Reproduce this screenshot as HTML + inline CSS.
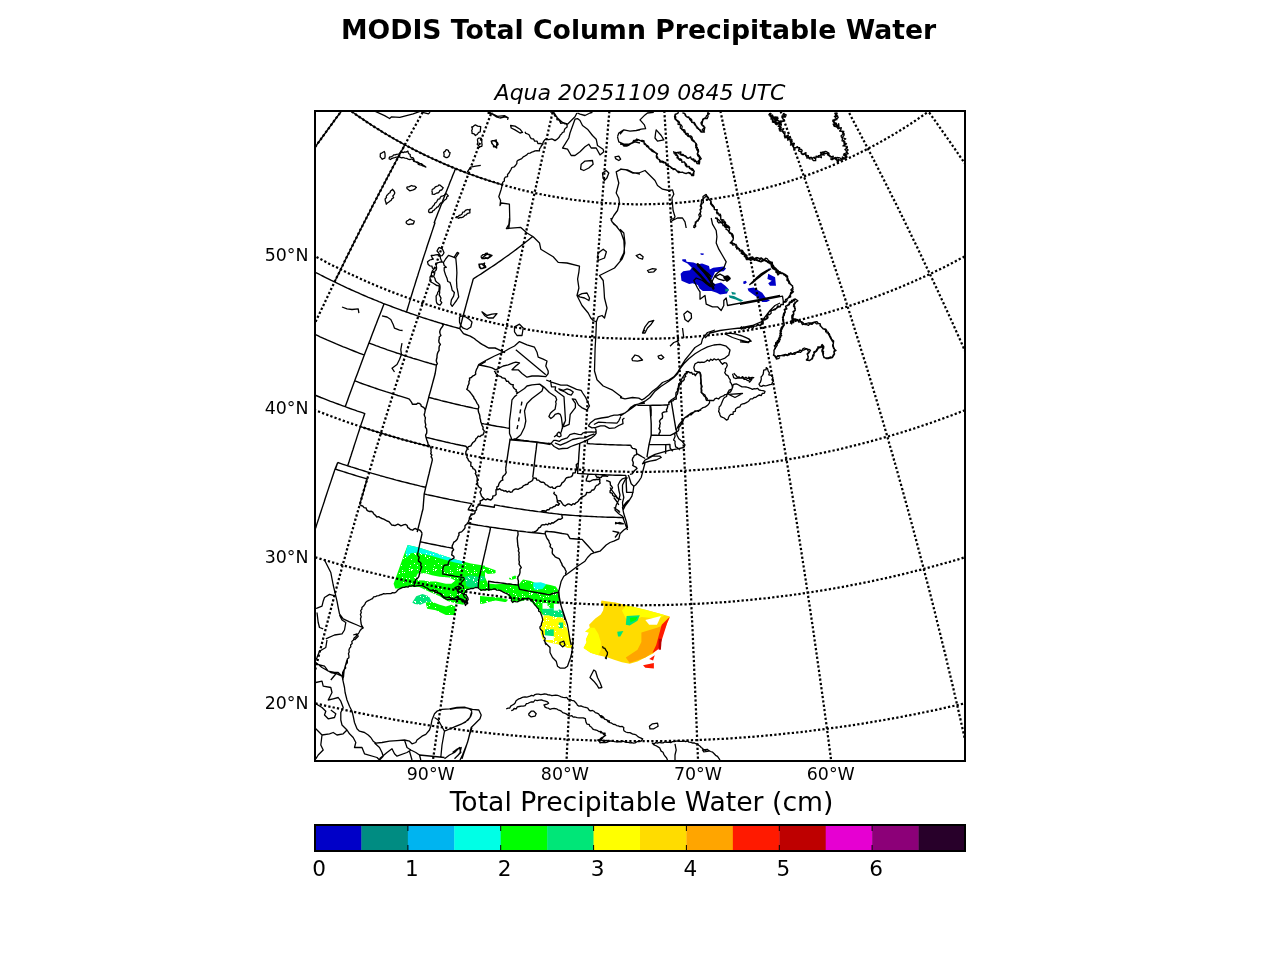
<!DOCTYPE html><html><head><meta charset="utf-8"><style>html,body{margin:0;padding:0;background:#fff;width:1280px;height:960px;overflow:hidden}</style></head><body><svg width="1280" height="960" viewBox="0 0 1280 960" style="position:absolute;left:0;top:0">
<defs><clipPath id="c"><rect x="315" y="111" width="650" height="650"/></clipPath><pattern id="sp" width="24" height="24" patternUnits="userSpaceOnUse"><g fill="#fff"><rect x="10" y="4" width="1" height="1"/><rect x="12" y="20" width="1" height="1"/><rect x="1" y="2" width="1" height="1"/><rect x="17" y="3" width="1" height="1"/><rect x="11" y="18" width="1" height="1"/><rect x="1" y="16" width="1" height="1"/><rect x="6" y="1" width="1" height="1"/><rect x="2" y="13" width="1" height="1"/><rect x="13" y="2" width="1" height="1"/><rect x="7" y="2" width="1" height="1"/><rect x="17" y="13" width="1" height="1"/><rect x="1" y="18" width="1" height="1"/><rect x="3" y="7" width="1" height="1"/><rect x="20" y="20" width="1" height="1"/><rect x="18" y="1" width="1" height="1"/><rect x="18" y="18" width="1" height="1"/><rect x="12" y="1" width="1" height="1"/><rect x="7" y="1" width="1" height="1"/><rect x="17" y="4" width="1" height="1"/><rect x="9" y="13" width="1" height="1"/><rect x="4" y="17" width="1" height="1"/><rect x="3" y="18" width="1" height="1"/><rect x="9" y="17" width="1" height="1"/><rect x="21" y="5" width="1" height="1"/><rect x="3" y="18" width="1" height="1"/><rect x="18" y="20" width="1" height="1"/><rect x="6" y="11" width="1" height="1"/><rect x="3" y="17" width="1" height="1"/><rect x="22" y="2" width="1" height="1"/><rect x="18" y="1" width="1" height="1"/><rect x="19" y="6" width="1" height="1"/><rect x="15" y="21" width="1" height="1"/></g></pattern></defs>
<rect width="1280" height="960" fill="#fff"/>
<g clip-path="url(#c)">
<path d="M682.3,259.2 L685.8,259.2 L686.6,261.8 L693.5,262.6 L697.8,264.3 L702.1,263.5 L709.0,266.0 L709.8,269.5 L713.2,267.8 L723.6,266.5 L726.1,268.6 L723.6,271.2 L715.0,272.1 L712.4,278.1 L710.7,280.7 L715.0,284.1 L721.0,282.4 L725.3,285.8 L728.7,289.2 L727.0,293.5 L720.1,294.4 L716.7,292.7 L711.5,291.0 L702.9,291.0 L699.5,288.4 L697.8,285.0 L692.6,283.2 L689.2,284.1 L681.5,280.7 L680.6,273.8 L683.2,271.2 L690.0,270.3 L691.8,267.8 L687.5,263.5 L682.3,260.9Z" fill="#0000c8" stroke="none"/>
<path d="M747.6,288.4 L753.6,287.5 L762.2,292.7 L765.7,297.8 L770.0,300.4 L766.5,302.1 L762.2,302.1 L757.9,297.8 L751.9,293.5 L748.5,291.0Z" fill="#0000c8" stroke="none"/>
<path d="M768.2,273.8 L775.1,277.2 L776.0,285.8 L770.0,285.8 L768.2,283.2 L771.7,280.7 L767.4,278.9Z" fill="#0000c8" stroke="none"/>
<path d="M743.3,281.5 L745.9,280.7 L746.8,282.4 L745.0,284.1 L743.3,283.7Z" fill="#0000c8" stroke="none"/>
<path d="M768.2,268.6 L770.4,269.1 L770.0,270.5 L768.2,270.2Z" fill="#0000c8" stroke="none"/>
<path d="M700.4,253.2 L703.8,253.6 L703.4,254.9 L700.8,254.7Z" fill="#0000c8" stroke="none"/>
<path d="M725.3,288.4 L728.7,289.2 L728.7,291.0 L725.3,291.8Z" fill="#008c82" stroke="none"/>
<path d="M728.7,295.3 L733.9,296.1 L737.3,297.8 L743.3,300.4 L740.8,301.7 L735.6,299.6 L729.6,297.8Z" fill="#008c82" stroke="none"/>
<path d="M731.3,291.8 L735.6,292.7 L735.6,294.4 L732.2,294.4Z" fill="#008c82" stroke="none"/>
<path d="M407.7,545.1 L418.6,547.4 L431.9,551.7 L445.9,556.4 L453.8,559.1 L463.1,561.5 L470.9,563.4 L485.0,565.8 L485.0,588.4 L470.9,587.7 L467.0,590.0 L466.2,594.7 L467.8,601.7 L463.1,604.8 L455.3,603.3 L447.5,600.9 L439.7,596.2 L428.8,591.6 L419.4,586.9 L408.4,586.7 L400.6,588.4 L395.2,588.4 L393.6,583.8 L396.7,575.2 L404.5,553.3Z" fill="#00ff00" stroke="none"/>
<path d="M407.7,545.1 L418.6,547.4 L431.9,551.7 L445.9,556.4 L453.8,559.1 L463.1,561.5 L463.1,564.2 L453.8,562.3 L445.9,559.9 L431.9,556.0 L421.7,553.7 L417.8,552.5 L410.8,553.3 L406.9,557.2 L405.3,553.3Z" fill="#00ffe6" stroke="none"/>
<path d="M417.8,573.6 L425.6,573.2 L431.9,575.2 L439.7,576.7 L449.1,577.5 L455.3,580.6 L451.4,583.8 L445.9,583.8 L435.8,581.4 L428.8,581.4 L424.1,580.6 L417.8,580.2 L416.2,576.7Z" fill="#ffffff" stroke="none"/>
<path d="M412.3,602.5 L416.2,596.2 L422.5,593.9 L428.8,596.2 L431.9,601.7 L425.6,602.5 L420.2,604.8 L414.7,604.1Z" fill="#00e678" stroke="none"/>
<path d="M425.6,602.5 L431.9,601.7 L439.7,604.8 L445.9,606.4 L451.4,604.8 L455.3,606.4 L455.3,615.0 L445.9,615.0 L435.8,610.3 L427.2,608.8Z" fill="#00ff00" stroke="none"/>
<path d="M464.7,576.7 L470.9,575.2 L478.8,576.7 L478.8,586.9 L470.9,587.7 L466.2,586.1Z" fill="#00e678" stroke="none"/>
<path d="M480.0,575.6 L484.7,576.4 L487.8,583.4 L495.6,584.2 L509.7,583.4 L518.3,585.0 L523.0,579.5 L530.8,581.1 L534.7,582.7 L542.5,583.4 L550.3,585.0 L555.8,586.6 L558.9,591.2 L558.9,600.6 L558.1,606.9 L556.6,608.4 L550.3,608.4 L548.0,605.3 L546.4,610.0 L544.1,614.7 L542.5,614.7 L539.4,610.0 L533.1,603.8 L528.4,599.1 L523.8,600.6 L517.5,602.2 L512.8,602.2 L509.7,597.5 L505.0,592.8 L495.6,589.7 L487.8,590.5 L482.3,590.5 L480.0,591.2Z" fill="#00ff00" stroke="none"/>
<path d="M480.0,595.9 L487.8,596.7 L499.5,597.5 L508.1,599.8 L505.8,602.2 L495.6,600.6 L487.8,602.2 L483.1,603.8 L480.0,603.8Z" fill="#00ff00" stroke="none"/>
<path d="M533.1,582.7 L540.9,582.3 L546.4,584.2 L542.5,588.9 L534.7,589.7 L533.1,586.6Z" fill="#00ffe6" stroke="none"/>
<path d="M480.0,566.2 L486.2,567.0 L495.6,570.2 L495.6,573.3 L487.8,574.1 L484.7,571.7 L480.0,570.2Z" fill="#00ff00" stroke="none"/>
<path d="M508.9,578.0 L515.2,575.6 L517.5,578.0 L512.8,579.5 L509.7,579.5Z" fill="#00ff00" stroke="none"/>
<path d="M480.0,575.6 L484.7,576.4 L484.7,580.3 L480.0,581.1Z" fill="#00e678" stroke="none"/>
<path d="M541.2,609.4 L548.8,608.8 L556.2,607.5 L562.5,611.2 L563.1,617.5 L553.8,617.5 L548.8,615.6 L543.8,615.6Z" fill="#00e678" stroke="none"/>
<path d="M543.8,615.6 L548.8,615.6 L553.8,616.9 L562.5,617.5 L565.0,620.0 L566.2,626.2 L568.8,633.8 L571.2,641.9 L572.5,648.1 L567.5,648.1 L561.2,645.0 L555.0,643.8 L548.8,642.5 L545.0,641.2 L542.5,638.8 L540.6,632.5 L541.2,626.2 L542.5,621.2Z" fill="#ffff00" stroke="none"/>
<path d="M545.0,629.4 L553.8,629.4 L553.8,636.2 L545.0,636.2Z" fill="#00e678" stroke="none"/>
<path d="M558.8,622.5 L563.1,622.5 L563.1,628.1 L558.8,628.1Z" fill="#00e678" stroke="none"/>
<path d="M542.5,635.0 L553.8,636.2 L553.8,640.0 L545.0,640.0Z" fill="#ffffff" stroke="none"/>
<path d="M542.5,603.1 L547.5,603.1 L547.5,608.8 L542.5,608.8Z" fill="#ffffff" stroke="none"/>
<path d="M553.8,603.8 L558.8,603.8 L558.8,610.6 L553.8,610.6Z" fill="#ffffff" stroke="none"/>
<path d="M601.6,600.5 L606.2,601.2 L615.6,602.4 L629.7,605.9 L645.3,609.8 L660.9,614.1 L669.9,616.5 L667.2,623.1 L663.3,632.5 L659.4,641.9 L657.0,649.7 L653.1,653.6 L645.3,657.5 L637.5,661.4 L629.7,663.8 L621.9,662.2 L614.1,659.8 L607.8,657.5 L598.4,655.2 L590.6,652.8 L583.6,648.1 L586.7,641.9 L585.9,639.5 L589.1,632.5 L585.2,631.7 L589.8,627.8 L589.1,624.7 L595.3,618.4 L600.8,614.5 L603.1,610.6 L603.9,605.9 L600.8,602.8Z" fill="#ffdc00" stroke="none"/>
<path d="M625.8,605.9 L629.7,605.9 L645.3,609.8 L660.9,614.1 L664.8,615.3 L659.4,618.4 L649.2,617.7 L641.4,616.9 L633.6,620.8 L625.8,618.4 L621.9,610.6Z" fill="#ffff00" stroke="none"/>
<path d="M583.6,648.1 L586.7,641.9 L585.9,639.5 L589.1,632.5 L585.2,631.7 L589.8,627.8 L594.5,627.8 L598.4,634.1 L600.8,641.9 L600.8,649.7 L598.4,655.2 L590.6,652.8Z" fill="#ffff00" stroke="none"/>
<path d="M641.4,632.5 L657.0,627.8 L664.8,624.7 L657.0,649.7 L645.3,657.5 L629.7,663.0 L625.8,657.5 L637.5,649.7 L641.4,641.9Z" fill="#ffa500" stroke="none"/>
<path d="M661.7,624.7 L668.0,618.4 L669.9,616.9 L667.2,623.1 L661.7,640.3 L658.6,648.9 L652.3,653.2 L656.2,645.0Z" fill="#ff1a00" stroke="none"/>
<path d="M658.6,638.8 L661.7,638.8 L660.9,649.7 L658.6,649.7Z" fill="#be0000" stroke="none"/>
<path d="M626.6,616.1 L639.8,615.3 L637.5,620.8 L629.7,625.5 L625.8,624.7Z" fill="#00e678" stroke="none"/>
<path d="M629.7,617.7 L637.5,616.9 L635.9,620.0 L630.5,622.3Z" fill="#00ff00" stroke="none"/>
<path d="M617.2,631.7 L623.4,630.9 L620.3,636.4 L618.0,636.4Z" fill="#00e678" stroke="none"/>
<path d="M645.3,620.0 L660.9,616.1 L657.0,624.7 L649.2,624.7Z" fill="#ffffff" stroke="none"/>
<path d="M643.0,665.3 L653.9,663.0 L653.9,668.4 L645.3,667.7Z" fill="#ff1a00" stroke="none"/>
<path d="M649.2,659.1 L654.7,655.2 L653.1,660.6Z" fill="#ff1a00" stroke="none"/>
<path d="M395,543 L560,585 L575,650 L540,655 L520,625 L470,622 L400,600 Z" fill="url(#sp)"/>
<path d="M289.8,697.0 L295.7,698.5 L301.6,700.0 L307.5,701.4 L313.3,702.9 L319.2,704.2 L325.1,705.6 L331.0,706.9 L336.8,708.2 L342.7,709.5 L348.6,710.8 L355.1,712.1 L361.6,713.5 L368.1,714.8 L374.6,716.0 L381.1,717.2 L387.7,718.4 L394.2,719.6 L400.7,720.8 L407.2,721.9 L413.7,722.9 L420.2,724.0 L426.7,725.0 L433.2,726.0 L439.7,726.9 L446.2,727.8 L452.7,728.7 L459.2,729.6 L465.7,730.4 L472.2,731.2 L478.7,732.0 L485.2,732.7 L491.7,733.4 L498.2,734.1 L504.6,734.7 L511.1,735.3 L517.6,735.9 L524.1,736.4 L530.6,737.0 L537.1,737.5 L543.6,737.9 L550.1,738.3 L556.5,738.7 L563.0,739.1 L569.5,739.5 L576.0,739.8 L582.5,740.0 L589.0,740.3 L595.4,740.5 L601.9,740.7 L608.4,740.9 L614.9,741.0 L621.4,741.1 L627.8,741.2 L634.3,741.2 L640.8,741.2 L647.3,741.2 L653.8,741.2 L660.2,741.1 L666.7,741.0 L673.2,740.8 L679.7,740.7 L686.2,740.5 L692.7,740.2 L699.1,740.0 L705.6,739.7 L712.1,739.4 L718.6,739.0 L725.1,738.7 L731.6,738.3 L738.0,737.8 L744.5,737.4 L751.0,736.9 L757.5,736.3 L764.0,735.8 L770.5,735.2 L777.0,734.6 L783.5,733.9 L790.0,733.2 L796.4,732.5 L802.9,731.8 L809.4,731.0 L815.9,730.2 L822.4,729.4 L828.9,728.5 L835.4,727.6 L841.9,726.7 L848.4,725.8 L854.9,724.8 L861.4,723.8 L867.9,722.7 L874.4,721.6 L880.9,720.5 L887.5,719.4 L894.0,718.2 L900.5,717.0 L907.0,715.7 L913.5,714.5 L920.0,713.2 L926.5,711.8 L933.1,710.5 L938.9,709.2 L944.8,707.9 L950.7,706.6 L956.5,705.3 L962.4,703.9 L968.3,702.5 L974.2,701.1 L980.0,699.6 L985.9,698.2 L990.5,697.0 M290.0,549.4 L295.8,551.3 L301.5,553.1 L307.3,554.9 L313.1,556.7 L318.9,558.4 L324.7,560.1 L330.5,561.8 L336.3,563.5 L342.1,565.1 L347.9,566.6 L354.2,568.3 L360.6,570.0 L367.0,571.6 L373.4,573.2 L379.8,574.7 L386.1,576.2 L392.5,577.7 L398.9,579.1 L405.3,580.5 L411.7,581.8 L418.1,583.1 L424.5,584.4 L430.8,585.6 L437.2,586.8 L443.6,588.0 L450.0,589.1 L456.4,590.2 L462.8,591.2 L469.2,592.2 L475.6,593.2 L482.0,594.1 L488.4,595.0 L494.8,595.8 L501.2,596.7 L507.5,597.4 L513.9,598.2 L520.3,598.9 L526.7,599.5 L533.1,600.2 L539.5,600.8 L545.9,601.3 L552.3,601.8 L558.7,602.3 L565.1,602.8 L571.5,603.2 L577.9,603.5 L584.3,603.9 L590.7,604.2 L597.1,604.4 L603.5,604.7 L609.9,604.9 L616.3,605.0 L622.7,605.1 L629.1,605.2 L635.5,605.3 L641.9,605.3 L648.3,605.2 L654.7,605.2 L661.1,605.1 L667.5,604.9 L673.9,604.8 L680.3,604.5 L686.7,604.3 L693.1,604.0 L699.5,603.7 L705.9,603.3 L712.3,602.9 L718.7,602.5 L725.1,602.1 L731.5,601.6 L737.9,601.0 L744.3,600.4 L750.7,599.8 L757.1,599.2 L763.5,598.5 L769.8,597.8 L776.2,597.0 L782.6,596.2 L789.0,595.4 L795.4,594.5 L801.8,593.6 L808.2,592.6 L814.6,591.6 L821.0,590.6 L827.4,589.6 L833.8,588.5 L840.2,587.3 L846.6,586.2 L852.9,584.9 L859.3,583.7 L865.7,582.4 L872.1,581.1 L878.5,579.7 L884.9,578.3 L891.3,576.9 L897.6,575.4 L904.0,573.9 L910.4,572.3 L916.8,570.7 L923.2,569.1 L929.5,567.4 L935.3,565.8 L941.1,564.2 L946.9,562.6 L952.7,561.0 L958.5,559.3 L964.3,557.5 L970.1,555.8 L975.9,554.0 L981.6,552.2 L987.4,550.3 L990.3,549.4 M289.5,399.6 L295.4,402.1 L301.4,404.6 L307.3,407.0 L313.2,409.4 L319.2,411.7 L325.1,414.0 L331.1,416.2 L337.0,418.4 L343.0,420.6 L349.0,422.7 L355.0,424.7 L360.9,426.8 L366.9,428.7 L372.9,430.6 L378.9,432.5 L385.0,434.3 L391.0,436.1 L397.0,437.9 L403.0,439.6 L409.0,441.2 L415.1,442.8 L421.1,444.4 L427.1,445.9 L433.2,447.4 L439.2,448.8 L445.3,450.2 L451.3,451.5 L457.4,452.8 L463.5,454.1 L469.5,455.3 L475.6,456.4 L481.7,457.6 L487.7,458.6 L493.8,459.7 L499.9,460.7 L506.0,461.6 L512.1,462.5 L518.1,463.4 L524.2,464.2 L530.3,465.0 L536.4,465.8 L542.5,466.4 L548.6,467.1 L554.7,467.7 L560.8,468.3 L566.9,468.8 L573.0,469.3 L579.1,469.7 L585.2,470.1 L591.3,470.5 L597.4,470.8 L603.5,471.1 L609.6,471.3 L615.7,471.5 L621.8,471.6 L627.9,471.8 L634.0,471.8 L640.1,471.8 L646.3,471.8 L652.4,471.8 L658.5,471.6 L664.6,471.5 L670.7,471.3 L676.8,471.1 L682.9,470.8 L689.0,470.5 L695.1,470.1 L701.2,469.7 L707.3,469.3 L713.4,468.8 L719.5,468.3 L725.6,467.7 L731.7,467.1 L737.8,466.4 L743.9,465.7 L750.0,465.0 L756.1,464.2 L762.2,463.4 L768.2,462.5 L774.3,461.6 L780.4,460.7 L786.5,459.7 L792.6,458.6 L798.6,457.6 L804.7,456.4 L810.8,455.3 L816.8,454.0 L822.9,452.8 L829.0,451.5 L835.0,450.2 L841.1,448.8 L847.1,447.3 L853.2,445.9 L859.2,444.3 L865.2,442.8 L871.3,441.2 L877.3,439.5 L883.3,437.8 L889.3,436.1 L895.3,434.3 L901.4,432.5 L907.4,430.6 L913.4,428.7 L919.3,426.7 L925.3,424.7 L931.3,422.7 L937.3,420.6 L943.3,418.4 L949.2,416.2 L955.2,414.0 L961.1,411.7 L967.1,409.4 L973.0,407.0 L978.9,404.6 L984.9,402.1 L990.3,399.8 M289.8,241.7 L295.3,245.0 L300.8,248.2 L306.3,251.4 L311.9,254.4 L317.4,257.5 L323.0,260.4 L328.6,263.4 L334.2,266.2 L339.9,269.0 L345.5,271.8 L351.2,274.5 L356.9,277.1 L362.6,279.7 L368.3,282.2 L374.0,284.7 L379.7,287.1 L385.5,289.4 L391.2,291.7 L397.0,293.9 L402.8,296.1 L408.6,298.2 L414.4,300.3 L420.2,302.3 L426.0,304.3 L431.9,306.2 L437.7,308.1 L443.6,309.8 L449.4,311.6 L455.3,313.3 L461.2,314.9 L467.1,316.5 L473.0,318.0 L478.9,319.5 L484.8,320.9 L490.7,322.2 L496.6,323.6 L502.6,324.8 L508.5,326.0 L514.5,327.2 L520.4,328.2 L526.4,329.3 L532.3,330.3 L538.3,331.2 L544.3,332.1 L550.2,332.9 L556.2,333.7 L562.2,334.4 L568.2,335.0 L574.2,335.6 L580.1,336.2 L586.1,336.7 L592.1,337.2 L598.1,337.6 L604.1,337.9 L610.1,338.2 L616.1,338.4 L622.1,338.6 L628.1,338.7 L634.1,338.8 L640.1,338.9 L646.1,338.8 L652.1,338.7 L658.2,338.6 L664.2,338.4 L670.2,338.2 L676.2,337.9 L682.2,337.6 L688.1,337.2 L694.1,336.7 L700.1,336.2 L706.1,335.6 L712.1,335.0 L718.1,334.4 L724.1,333.7 L730.1,332.9 L736.0,332.1 L742.0,331.2 L748.0,330.3 L753.9,329.3 L759.9,328.2 L765.8,327.1 L771.8,326.0 L777.7,324.8 L783.6,323.5 L789.6,322.2 L795.5,320.9 L801.4,319.5 L807.3,318.0 L813.2,316.5 L819.1,314.9 L825.0,313.3 L830.8,311.6 L836.7,309.8 L842.6,308.0 L848.4,306.2 L854.3,304.3 L860.1,302.3 L865.9,300.3 L871.7,298.2 L877.5,296.1 L883.3,293.9 L889.0,291.7 L894.8,289.4 L900.6,287.0 L906.3,284.6 L912.0,282.2 L917.7,279.6 L923.4,277.1 L929.1,274.4 L934.7,271.7 L940.4,269.0 L946.0,266.2 L951.6,263.3 L957.2,260.4 L962.8,257.4 L968.4,254.4 L973.9,251.3 L979.5,248.2 L985.0,245.0 L990.1,241.9 M323.7,89.9 L328.5,93.8 L333.3,97.7 L338.2,101.5 L343.1,105.2 L348.0,108.8 L352.9,112.4 L357.9,115.9 L363.0,119.4 L368.0,122.8 L373.1,126.1 L378.2,129.3 L383.4,132.5 L388.6,135.6 L393.8,138.6 L399.0,141.6 L404.3,144.5 L409.8,147.4 L415.5,150.4 L421.1,153.2 L426.8,155.9 L432.5,158.6 L438.2,161.2 L444.0,163.8 L449.8,166.2 L455.5,168.6 L461.4,170.9 L467.2,173.1 L473.1,175.2 L478.9,177.3 L484.8,179.3 L490.7,181.2 L496.7,183.0 L502.6,184.8 L508.6,186.5 L514.6,188.1 L520.5,189.6 L526.5,191.1 L532.6,192.5 L538.6,193.8 L544.6,195.0 L550.7,196.1 L556.7,197.2 L562.8,198.2 L568.9,199.1 L575.0,200.0 L581.0,200.7 L587.1,201.4 L593.2,202.1 L599.3,202.6 L605.5,203.1 L611.6,203.5 L617.7,203.8 L623.8,204.0 L629.9,204.2 L636.1,204.3 L642.2,204.3 L648.3,204.2 L654.4,204.1 L660.5,203.9 L666.7,203.6 L672.8,203.2 L678.9,202.8 L685.0,202.2 L691.1,201.6 L697.2,201.0 L703.3,200.2 L709.4,199.4 L715.4,198.5 L721.5,197.5 L727.6,196.5 L733.6,195.4 L739.7,194.2 L745.7,192.9 L751.7,191.5 L757.7,190.1 L763.7,188.6 L769.7,187.0 L775.7,185.3 L781.6,183.6 L787.5,181.8 L793.5,179.9 L799.4,178.0 L805.2,175.9 L811.1,173.8 L817.0,171.6 L822.8,169.3 L828.6,167.0 L834.4,164.6 L840.1,162.1 L845.9,159.5 L851.6,156.8 L857.3,154.1 L862.9,151.3 L868.5,148.4 L874.1,145.4 L879.7,142.4 L885.0,139.4 L890.2,136.4 L895.4,133.4 L900.5,130.2 L905.6,127.0 L910.7,123.7 L915.8,120.4 L920.8,116.9 L925.9,113.4 L930.8,109.9 L935.8,106.2 L940.7,102.5 L945.5,98.8 L950.3,94.9 L955.1,91.0 L956.5,89.9 M289.9,182.9 L293.4,177.9 L296.9,172.8 L300.4,167.8 L303.9,162.9 L307.5,157.9 L311.0,152.9 L314.6,147.9 L318.1,142.9 L321.7,138.0 L325.3,133.0 L328.9,128.1 L332.5,123.1 L336.1,118.2 L339.8,113.3 L343.4,108.3 L347.1,103.4 L350.8,98.5 L354.4,93.6 L357.4,89.7 M289.9,377.8 L292.5,371.8 L295.2,365.8 L297.9,359.9 L300.7,353.9 L303.4,348.0 L306.1,342.0 L308.9,336.1 L311.6,330.2 L314.4,324.3 L317.2,318.4 L320.0,312.5 L322.8,306.6 L325.6,300.7 L328.4,294.8 L331.2,288.9 L334.1,283.0 L336.9,277.1 L339.8,271.3 L342.7,265.4 L345.5,259.6 L348.4,253.7 L351.4,247.9 L354.3,242.0 L357.2,236.2 L360.1,230.3 L363.1,224.5 L366.1,218.7 L369.1,212.8 L372.0,207.0 L375.1,201.2 L378.1,195.4 L381.1,189.5 L384.1,183.7 L387.2,177.9 L390.3,172.1 L393.3,166.3 L396.4,160.5 L399.5,154.7 L402.7,148.9 L405.8,143.1 L408.9,137.3 L411.8,132.0 L414.7,126.7 L417.6,121.5 L420.5,116.2 L423.4,110.9 L426.3,105.7 L429.3,100.4 L432.2,95.1 L435.2,89.8 M289.9,776.6 L291.2,770.5 L292.6,764.5 L294.0,758.4 L295.4,752.4 L296.8,746.4 L298.2,740.4 L299.6,734.5 L301.0,728.5 L302.4,722.5 L303.8,716.6 L305.2,710.7 L306.7,704.7 L308.1,698.8 L309.5,692.9 L311.0,687.1 L312.4,681.2 L313.9,675.3 L315.3,669.5 L316.8,663.6 L318.3,657.8 L319.7,652.0 L321.4,645.6 L323.0,639.2 L324.7,632.8 L326.3,626.5 L328.0,620.1 L329.6,613.8 L331.3,607.5 L333.0,601.1 L334.6,594.8 L336.3,588.5 L338.0,582.3 L339.7,576.0 L341.4,569.7 L343.1,563.5 L344.9,557.2 L346.6,551.0 L348.3,544.7 L350.1,538.5 L351.8,532.3 L353.6,526.1 L355.3,519.9 L357.1,513.7 L358.9,507.5 L360.7,501.3 L362.4,495.2 L364.2,489.0 L366.1,482.8 L367.9,476.7 L369.7,470.5 L371.5,464.4 L373.3,458.3 L375.2,452.1 L377.0,446.0 L378.9,439.9 L380.7,433.8 L382.6,427.7 L384.5,421.6 L386.4,415.5 L388.3,409.4 L390.2,403.3 L392.1,397.2 L394.0,391.1 L395.9,385.0 L397.9,378.9 L399.8,372.9 L401.7,366.8 L403.7,360.7 L405.7,354.7 L407.6,348.6 L409.6,342.5 L411.6,336.5 L413.6,330.4 L415.6,324.4 L417.6,318.3 L419.7,312.2 L421.7,306.2 L423.7,300.1 L425.8,294.1 L427.8,288.0 L429.9,282.0 L432.0,275.9 L434.1,269.9 L436.2,263.8 L438.3,257.8 L440.4,251.7 L442.5,245.7 L444.6,239.6 L446.8,233.6 L448.9,227.5 L451.1,221.4 L453.3,215.4 L455.4,209.3 L457.6,203.3 L459.8,197.2 L462.1,191.1 L464.3,185.0 L466.5,179.0 L468.8,172.9 L471.0,166.8 L473.3,160.7 L475.6,154.6 L477.8,148.5 L480.1,142.4 L482.4,136.3 L484.8,130.2 L487.1,124.1 L489.4,118.0 L491.8,111.9 L494.2,105.8 L496.5,99.6 L498.9,93.5 L500.5,89.6 M429.5,785.1 L430.3,779.1 L431.1,773.1 L432.0,767.2 L432.8,761.3 L433.7,754.7 L434.7,748.2 L435.6,741.7 L436.5,735.2 L437.4,728.7 L438.4,722.3 L439.3,715.8 L440.3,709.4 L441.2,702.9 L442.2,696.5 L443.1,690.1 L444.1,683.7 L445.1,677.3 L446.0,670.9 L447.0,664.6 L448.0,658.2 L449.0,651.9 L450.0,645.5 L450.9,639.2 L451.9,632.8 L452.9,626.5 L453.9,620.2 L454.9,613.9 L456.0,607.6 L457.0,601.3 L458.0,595.0 L459.0,588.8 L460.0,582.5 L461.1,576.2 L462.1,570.0 L463.2,563.7 L464.2,557.5 L465.3,551.3 L466.3,545.0 L467.4,538.8 L468.4,532.6 L469.5,526.4 L470.6,520.1 L471.6,513.9 L472.7,507.7 L473.8,501.5 L474.9,495.3 L476.0,489.1 L477.1,483.0 L478.2,476.8 L479.3,470.6 L480.4,464.4 L481.5,458.2 L482.7,452.1 L483.8,445.9 L484.9,439.7 L486.1,433.5 L487.2,427.4 L488.4,421.2 L489.5,415.0 L490.7,408.9 L491.8,402.7 L493.0,396.5 L494.2,390.4 L495.4,384.2 L496.5,378.1 L497.7,371.9 L498.9,365.7 L500.1,359.6 L501.3,353.4 L502.5,347.2 L503.8,341.1 L505.0,334.9 L506.2,328.7 L507.4,322.6 L508.7,316.4 L509.9,310.2 L511.2,304.0 L512.4,297.9 L513.7,291.7 L515.0,285.5 L516.2,279.3 L517.5,273.1 L518.8,266.9 L520.1,260.7 L521.4,254.5 L522.7,248.3 L524.0,242.1 L525.3,235.9 L526.6,229.6 L528.0,223.4 L529.3,217.2 L530.6,210.9 L532.0,204.7 L533.4,198.4 L534.7,192.2 L536.1,185.9 L537.5,179.7 L538.9,173.4 L540.2,167.1 L541.6,160.8 L543.0,154.5 L544.5,148.2 L545.9,141.9 L547.3,135.6 L548.7,129.2 L550.2,122.9 L551.6,116.6 L553.1,110.2 L554.6,103.8 L556.0,97.5 L557.5,91.1 L557.8,89.9 M565.3,785.1 L565.6,778.6 L565.9,772.1 L566.2,765.6 L566.6,759.1 L566.9,752.6 L567.2,746.2 L567.5,739.7 L567.9,733.3 L568.2,726.8 L568.5,720.4 L568.9,714.0 L569.2,707.6 L569.6,701.2 L569.9,694.8 L570.2,688.4 L570.6,682.0 L570.9,675.7 L571.3,669.3 L571.6,663.0 L572.0,656.6 L572.3,650.3 L572.7,644.0 L573.0,637.7 L573.4,631.3 L573.8,625.0 L574.1,618.7 L574.5,612.5 L574.8,606.2 L575.2,599.9 L575.6,593.6 L575.9,587.3 L576.3,581.1 L576.7,574.8 L577.1,568.6 L577.4,562.3 L577.8,556.1 L578.2,549.8 L578.6,543.6 L578.9,537.4 L579.3,531.1 L579.7,524.9 L580.1,518.7 L580.5,512.5 L580.9,506.2 L581.3,500.0 L581.6,493.8 L582.0,487.6 L582.4,481.4 L582.8,475.2 L583.2,469.0 L583.6,462.8 L584.0,456.6 L584.4,450.4 L584.8,444.2 L585.2,438.0 L585.7,431.7 L586.1,425.5 L586.5,419.3 L586.9,413.1 L587.3,406.9 L587.7,400.7 L588.2,394.5 L588.6,388.3 L589.0,382.1 L589.4,375.9 L589.9,369.7 L590.3,363.5 L590.7,357.2 L591.2,351.0 L591.6,344.8 L592.0,338.6 L592.5,332.3 L592.9,326.1 L593.4,319.9 L593.8,313.6 L594.3,307.4 L594.7,301.1 L595.2,294.9 L595.6,288.6 L596.1,282.3 L596.5,276.1 L597.0,269.8 L597.5,263.5 L597.9,257.2 L598.4,250.9 L598.9,244.6 L599.4,238.3 L599.8,232.0 L600.3,225.7 L600.8,219.4 L601.3,213.1 L601.8,206.7 L602.2,200.4 L602.7,194.0 L603.2,187.7 L603.7,181.3 L604.2,174.9 L604.7,168.5 L605.2,162.1 L605.7,155.7 L606.3,149.3 L606.8,142.9 L607.3,136.4 L607.8,130.0 L608.3,123.5 L608.9,117.0 L609.4,110.6 L609.9,104.1 L610.4,97.6 L611.0,91.1 L611.1,89.9 M699.0,785.2 L698.7,778.7 L698.5,772.2 L698.2,765.7 L698.0,759.2 L697.7,752.7 L697.4,746.3 L697.2,739.8 L696.9,733.4 L696.7,726.9 L696.4,720.5 L696.1,714.1 L695.9,707.7 L695.6,701.3 L695.3,694.9 L695.1,688.5 L694.8,682.2 L694.5,675.8 L694.2,669.5 L694.0,663.1 L693.7,656.8 L693.4,650.4 L693.1,644.1 L692.9,637.8 L692.6,631.5 L692.3,625.2 L692.0,618.9 L691.7,612.6 L691.4,606.3 L691.2,600.0 L690.9,593.8 L690.6,587.5 L690.3,581.2 L690.0,575.0 L689.7,568.7 L689.4,562.5 L689.1,556.2 L688.8,550.0 L688.5,543.7 L688.2,537.5 L687.9,531.3 L687.6,525.1 L687.3,518.8 L687.0,512.6 L686.7,506.4 L686.4,500.2 L686.1,494.0 L685.8,487.7 L685.5,481.5 L685.2,475.3 L684.8,469.1 L684.5,462.9 L684.2,456.7 L683.9,450.5 L683.6,444.3 L683.3,438.1 L682.9,431.9 L682.6,425.7 L682.3,419.5 L682.0,413.2 L681.6,407.0 L681.3,400.8 L681.0,394.6 L680.6,388.4 L680.3,382.2 L680.0,376.0 L679.6,369.8 L679.3,363.5 L678.9,357.3 L678.6,351.1 L678.3,344.9 L677.9,338.6 L677.6,332.4 L677.2,326.2 L676.9,319.9 L676.5,313.7 L676.2,307.4 L675.8,301.2 L675.4,294.9 L675.1,288.7 L674.7,282.4 L674.4,276.1 L674.0,269.8 L673.6,263.6 L673.3,257.3 L672.9,251.0 L672.5,244.7 L672.2,238.4 L671.8,232.0 L671.4,225.7 L671.0,219.4 L670.6,213.0 L670.3,206.7 L669.9,200.3 L669.5,194.0 L669.1,187.6 L668.7,181.2 L668.3,174.9 L667.9,168.5 L667.5,162.1 L667.1,155.6 L666.7,149.2 L666.3,142.8 L665.9,136.3 L665.5,129.9 L665.1,123.4 L664.7,116.9 L664.3,110.5 L663.8,104.0 L663.4,97.4 L663.0,90.9 L662.9,89.7 M834.3,785.4 L833.6,779.5 L832.8,773.5 L832.0,767.0 L831.1,760.4 L830.3,753.9 L829.4,747.4 L828.6,740.9 L827.7,734.4 L826.9,728.0 L826.0,721.5 L825.1,715.1 L824.3,708.6 L823.4,702.2 L822.5,695.8 L821.6,689.4 L820.7,683.0 L819.8,676.6 L818.9,670.2 L818.0,663.9 L817.1,657.5 L816.2,651.1 L815.3,644.8 L814.4,638.5 L813.5,632.1 L812.6,625.8 L811.6,619.5 L810.7,613.2 L809.8,606.9 L808.8,600.6 L807.9,594.4 L806.9,588.1 L806.0,581.8 L805.0,575.6 L804.1,569.3 L803.1,563.1 L802.1,556.8 L801.2,550.6 L800.2,544.4 L799.2,538.1 L798.2,531.9 L797.3,525.7 L796.3,519.5 L795.3,513.3 L794.3,507.1 L793.3,500.9 L792.3,494.7 L791.2,488.5 L790.2,482.3 L789.2,476.1 L788.2,469.9 L787.2,463.7 L786.1,457.5 L785.1,451.3 L784.0,445.2 L783.0,439.0 L781.9,432.8 L780.9,426.6 L779.8,420.5 L778.8,414.3 L777.7,408.1 L776.6,402.0 L775.5,395.8 L774.4,389.6 L773.4,383.4 L772.3,377.3 L771.2,371.1 L770.1,364.9 L768.9,358.8 L767.8,352.6 L766.7,346.4 L765.6,340.2 L764.5,334.1 L763.3,327.9 L762.2,321.7 L761.0,315.5 L759.9,309.3 L758.7,303.1 L757.6,296.9 L756.4,290.7 L755.2,284.5 L754.1,278.3 L752.9,272.1 L751.7,265.9 L750.5,259.7 L749.3,253.5 L748.1,247.3 L746.9,241.0 L745.6,234.8 L744.4,228.6 L743.2,222.3 L742.0,216.1 L740.7,209.8 L739.5,203.6 L738.2,197.3 L736.9,191.0 L735.7,184.7 L734.4,178.4 L733.1,172.1 L731.8,165.8 L730.5,159.5 L729.2,153.2 L727.9,146.9 L726.6,140.6 L725.3,134.2 L724.0,127.9 L722.6,121.5 L721.3,115.1 L719.9,108.8 L718.6,102.4 L717.2,96.0 L715.8,89.6 M974.9,785.0 L973.6,779.0 L972.3,772.9 L971.0,766.9 L969.7,760.9 L968.4,754.9 L967.1,748.9 L965.7,742.9 L964.4,736.9 L963.1,731.0 L961.7,725.0 L960.4,719.1 L959.0,713.2 L957.7,707.2 L956.3,701.3 L954.9,695.4 L953.6,689.6 L952.2,683.7 L950.8,677.8 L949.4,672.0 L948.0,666.2 L946.5,659.7 L945.0,653.3 L943.4,647.0 L941.8,640.6 L940.3,634.2 L938.7,627.9 L937.1,621.5 L935.6,615.2 L934.0,608.9 L932.4,602.5 L930.8,596.2 L929.2,590.0 L927.6,583.7 L925.9,577.4 L924.3,571.1 L922.7,564.9 L921.0,558.6 L919.4,552.4 L917.7,546.1 L916.1,539.9 L914.4,533.7 L912.8,527.5 L911.1,521.3 L909.4,515.1 L907.7,508.9 L906.0,502.7 L904.3,496.6 L902.6,490.4 L900.9,484.2 L899.1,478.1 L897.4,471.9 L895.7,465.8 L893.9,459.6 L892.2,453.5 L890.4,447.4 L888.6,441.2 L886.9,435.1 L885.1,429.0 L883.3,422.9 L881.5,416.8 L879.7,410.7 L877.9,404.6 L876.1,398.5 L874.2,392.4 L872.4,386.3 L870.6,380.2 L868.7,374.1 L866.9,368.0 L865.0,361.9 L863.1,355.9 L861.2,349.8 L859.3,343.7 L857.4,337.6 L855.5,331.5 L853.6,325.5 L851.7,319.4 L849.8,313.3 L847.8,307.3 L845.9,301.2 L843.9,295.1 L842.0,289.0 L840.0,283.0 L838.0,276.9 L836.0,270.8 L834.0,264.8 L832.0,258.7 L830.0,252.6 L828.0,246.5 L825.9,240.5 L823.9,234.4 L821.8,228.3 L819.8,222.2 L817.7,216.1 L815.6,210.0 L813.5,204.0 L811.4,197.9 L809.3,191.8 L807.2,185.7 L805.1,179.6 L802.9,173.5 L800.8,167.4 L798.6,161.2 L796.4,155.1 L794.2,149.0 L792.1,142.9 L789.8,136.7 L787.6,130.6 L785.4,124.5 L783.2,118.3 L780.9,112.2 L778.7,106.0 L776.4,99.8 L774.1,93.7 L772.6,89.7 M990.1,409.0 L987.6,403.0 L985.0,397.0 L982.4,391.0 L979.9,385.0 L977.3,379.0 L974.7,373.0 L972.1,367.0 L969.5,361.0 L966.8,355.1 L964.2,349.1 L961.6,343.2 L958.9,337.2 L956.2,331.3 L953.6,325.3 L950.9,319.4 L948.2,313.5 L945.5,307.6 L942.8,301.7 L940.0,295.8 L937.3,289.8 L934.5,283.9 L931.8,278.1 L929.0,272.2 L926.2,266.3 L923.4,260.4 L920.6,254.5 L917.8,248.6 L915.0,242.8 L912.1,236.9 L909.3,231.0 L906.4,225.2 L903.6,219.3 L900.7,213.4 L897.8,207.6 L894.9,201.7 L891.9,195.9 L889.0,190.0 L886.1,184.2 L883.1,178.3 L880.1,172.5 L877.2,166.6 L874.2,160.8 L871.2,155.0 L868.1,149.1 L865.1,143.3 L862.0,137.4 L859.0,131.6 L855.9,125.8 L853.1,120.5 L850.3,115.1 L847.5,109.8 L844.6,104.5 L841.8,99.2 L838.9,93.9 L836.6,89.7 M990.3,201.3 L987.0,196.2 L983.6,191.1 L980.2,186.1 L976.8,181.0 L973.4,176.0 L970.0,170.9 L966.5,165.9 L963.1,160.9 L959.6,155.9 L956.2,150.9 L952.7,145.8 L949.2,140.8 L945.7,135.8 L942.2,130.9 L938.7,125.9 L935.2,120.9 L931.6,115.9 L928.0,110.9 L924.5,106.0 L920.9,101.0 L917.3,96.1 L913.7,91.1 L912.6,89.6" fill="none" stroke="#000" stroke-width="2.25" stroke-dasharray="2.25 2.15"/>
<path d="M375.3,111.4 L384.6,115.6 L389.6,118.5 L391.6,116.8 L399.8,117.3 L406.5,115.6 L413.2,113.9 L420.0,111.4 M421.7,112.2 L428.4,113.9 L430.1,112.2 M388.8,158.6 L389.7,157.0 L391.5,156.6 L392.7,156.0 L393.7,154.9 L395.1,154.8 L396.4,154.3 L397.8,154.2 L399.2,153.9 L400.2,152.5 L401.6,152.0 L403.2,152.7 L404.5,151.9 L406.0,152.1 L407.9,151.1 L408.2,152.5 L408.8,153.7 L410.2,154.5 L410.2,156.2 L411.1,157.3 L412.9,157.7 L413.8,158.8 L414.1,160.4 L415.2,161.7 L417.0,161.9 L418.5,162.5 L419.6,163.4 L421.1,163.6 L422.3,164.4 L423.4,165.4 L424.6,166.1 L425.8,167.1 L424.3,166.5 L422.8,166.0 L421.5,165.1 L419.9,164.8 L418.4,164.4 L417.7,162.7 L416.2,162.3 L415.0,161.5 L413.6,161.3 L413.1,159.6 L411.6,159.0 L409.8,159.7 L408.1,159.1 L406.6,158.3 L404.9,158.1 L403.2,157.5 L401.4,157.9 L399.8,157.0 L398.1,157.0 L396.5,157.2 L394.6,157.7 L392.8,158.1 L391.6,158.6 L390.5,159.5 L388.8,158.6 M380.3,153.6 L382.1,152.8 L384.3,151.5 L384.9,152.9 L385.0,154.3 L385.1,156.1 L384.8,158.2 L383.3,158.6 L382.3,159.3 L381.4,158.1 L380.2,156.9 L380.3,155.2 L380.3,153.6 M406.5,187.3 L407.8,186.9 L409.2,186.8 L410.3,186.1 L411.6,185.5 L413.0,186.2 L414.6,186.1 L416.4,187.5 L415.1,188.5 L414.9,189.2 L413.2,189.9 L411.6,190.3 L409.7,190.8 L408.2,189.5 L407.2,188.7 L406.5,187.3 M386.2,195.8 L387.6,194.9 L388.5,193.5 L390.0,192.7 L390.5,191.0 L391.9,190.1 L392.4,189.3 L393.7,190.7 L394.7,192.4 L394.6,193.7 L393.8,194.9 L392.8,196.0 L393.6,197.7 L391.8,198.9 L391.1,200.4 L389.7,201.2 L388.6,202.2 L387.3,203.0 L386.3,204.2 L385.9,202.5 L385.3,200.8 L385.1,199.0 L386.5,197.5 L386.2,195.8 M406.5,221.1 L408.2,220.3 L410.0,219.0 L411.3,219.9 L412.7,220.5 L414.3,221.1 L413.9,222.6 L413.2,224.0 L411.8,224.0 L410.4,224.2 L409.0,224.5 L407.4,224.1 L406.1,222.8 L406.5,221.1 M431.8,190.7 L432.3,189.4 L433.6,188.7 L434.7,187.8 L435.3,186.9 L436.6,186.4 L437.9,186.0 L438.9,184.9 L439.9,185.1 L441.3,186.2 L443.2,187.7 L442.5,188.8 L441.6,190.0 L440.0,190.4 L439.3,191.8 L438.3,192.8 L436.8,193.0 L435.5,193.7 L434.2,194.4 L432.2,194.2 L432.3,192.4 L431.8,190.7 M428.4,210.9 L429.1,209.6 L430.2,208.7 L431.7,208.1 L432.4,206.8 L433.3,205.7 L434.3,204.8 L434.7,203.3 L435.9,202.6 L436.8,201.6 L437.4,200.3 L438.1,199.2 L439.8,198.8 L440.3,197.4 L441.3,196.3 L442.9,195.9 L444.3,195.3 L445.7,193.5 L447.0,194.3 L448.3,196.0 L446.7,197.0 L446.6,198.8 L445.1,199.7 L444.1,200.6 L443.2,201.6 L442.5,202.8 L440.8,202.8 L440.0,203.9 L439.1,205.3 L438.3,206.7 L436.7,207.4 L436.0,208.5 L434.8,209.2 L434.0,210.3 L432.7,210.8 L432.0,212.4 L430.2,212.5 L429.1,212.6 L428.4,210.9 M443.6,151.9 L445.1,151.5 L445.7,150.0 L446.6,149.7 L448.3,150.3 L448.8,152.0 L450.1,152.6 L449.6,154.5 L448.8,156.4 L447.3,157.6 L445.8,157.5 L443.9,156.4 L444.1,154.4 L443.6,151.9 M471.5,126.6 L472.9,126.8 L474.0,125.8 L475.1,124.9 L476.3,125.4 L477.7,126.1 L479.2,126.3 L480.7,126.6 L480.6,128.3 L480.4,130.0 L480.2,131.9 L478.7,132.3 L477.9,133.4 L477.0,134.5 L475.4,135.5 L474.1,133.9 L472.0,133.3 L472.1,132.0 L471.7,130.6 L472.3,129.2 L472.2,127.8 L471.5,126.6 M477.4,139.2 L478.9,138.1 L481.1,138.2 L481.8,140.0 L481.8,141.6 L481.8,143.1 L482.1,144.6 L481.8,146.3 L480.2,146.6 L479.5,147.4 L478.8,145.7 L477.2,144.3 L477.9,142.6 L477.6,140.9 L477.4,139.2 M491.7,140.9 L493.1,140.6 L494.7,141.0 L496.3,139.9 L496.2,141.6 L497.6,142.7 L498.1,144.4 L496.6,145.8 L496.7,148.0 L495.2,146.9 L493.5,146.8 L493.4,145.2 L492.4,143.9 L491.9,142.4 L491.7,140.9 M455.4,217.7 L456.5,216.6 L458.3,216.4 L459.3,215.3 L460.9,214.8 L462.1,213.9 L462.7,212.2 L464.3,211.8 L465.4,210.4 L466.6,209.9 L467.9,209.5 L469.5,210.2 L470.2,209.2 L469.8,210.8 L469.9,212.8 L468.5,213.2 L467.2,213.6 L466.3,214.8 L465.0,215.2 L464.0,216.3 L462.9,217.2 L461.5,217.6 L459.8,217.4 L458.8,218.4 L457.3,217.5 L455.4,217.7 M480.8,256.5 L482.0,255.6 L483.1,254.6 L484.8,254.3 L485.6,253.5 L487.4,253.1 L488.2,254.6 L489.9,254.5 L491.2,256.1 L489.4,256.1 L489.0,257.9 L487.5,258.6 L485.8,257.5 L484.1,258.3 L482.1,258.6 L480.8,256.5 M479.1,264.9 L480.2,264.1 L481.5,263.8 L483.0,264.0 L484.6,263.0 L484.2,264.9 L485.4,266.0 L485.7,266.8 L484.0,267.2 L482.5,268.3 L480.4,268.5 L479.9,266.6 L479.1,264.9 M467.2,172.1 L470.6,167.1 L475.7,166.2 L480.8,165.4 M487.5,111.4 L497.6,116.4 L504.4,115.6 L508.6,118.1 M502.5,184.2 L502.7,182.3 L504.4,181.0 L504.3,178.8 L505.2,177.2 L507.6,176.6 L507.5,174.4 L508.9,173.1 L509.9,171.3 L511.0,169.5 L511.9,167.5 L514.3,166.8 L515.7,165.2 L516.8,163.6 L517.0,161.3 L518.4,160.1 L520.1,159.4 L521.7,158.7 L523.2,156.8 L525.2,155.8 L526.8,154.9 L528.1,153.4 L530.0,153.1 L531.7,152.2 L533.4,151.6 L535.0,150.8 L536.9,150.6 L539.5,150.9 L539.5,148.8 L540.7,147.3 L541.5,145.6 L542.8,144.5 L543.0,142.6 L543.8,141.1 L544.9,139.6 L546.6,139.1 L548.5,139.6 L549.8,139.3 L551.8,138.9 L553.4,139.6 L555.0,140.6 L556.8,139.4 L558.4,138.1 L559.6,136.5 L560.3,135.0 L561.6,134.0 L562.4,132.5 L564.1,131.8 L564.3,130.2 L565.1,128.5 L566.9,127.3 L567.2,125.8 L566.4,123.7 L564.6,123.8 L563.1,122.8 L560.8,123.4 L560.0,121.7 L559.1,120.1 L556.9,119.7 L556.9,116.9 L554.6,115.9 L554.1,113.9 L552.9,112.2 L550.0,111.8 M525.0,131.8 L525.8,133.4 L527.7,134.0 L529.3,135.0 L530.0,136.8 L531.2,138.6 L533.6,139.0 L534.6,141.1 L537.1,141.2 L537.9,143.6 L540.0,143.4 L542.5,144.2 M553.8,112.4 L557.5,118.0 L562.5,122.4 L567.5,124.2 L570.0,121.8 L575.0,116.8 L576.9,113.0 M577.5,113.0 L580.0,114.2 L585.0,115.5 L590.0,113.0 L592.5,112.4 M487.5,113.0 L492.5,114.2 L496.2,116.8 L500.0,118.0 L505.0,116.8 L508.1,118.0 L507.5,119.9 M502.5,184.2 L501.2,189.2 L498.8,196.8 L500.6,200.5 L500.0,205.5 L501.2,203.0 L509.4,204.2 L509.8,220.5 L508.8,228.0 M617.5,136.8 L618.8,133.0 L623.8,129.9 L630.0,131.1 L636.2,130.5 L640.0,129.9 M617.5,136.8 L618.8,141.8 L623.8,144.2 L630.0,144.2 L635.0,141.8 L640.0,143.0 M640.0,174.2 L632.5,172.4 L627.5,169.9 L621.2,169.2 L616.2,171.8 L617.5,178.0 L618.8,183.0 L616.2,193.0 L618.8,198.0 L619.4,203.0 L617.5,210.5 L613.8,215.5 L611.2,220.5 L613.8,224.2 L617.5,226.8 M510.6,125.5 L515.0,126.1 L520.0,129.2 L522.5,132.4 L520.0,133.0 L515.0,129.9 L511.2,128.0Z M575.0,119.2 L570.0,133.0 L568.8,138.0 L565.0,144.2 L562.5,148.0 L567.5,149.2 L571.2,155.5 L575.0,155.5 L580.0,151.8 L585.0,146.8 L588.8,144.2 L591.2,148.0 L596.2,148.0 L600.0,154.9 L603.8,151.8 L603.1,149.2 L597.5,145.5 L596.2,139.2 L592.5,135.5 L587.5,129.2 L582.5,125.5 L580.0,120.5 L577.5,118.6Z M581.2,164.2 L585.0,161.1 L592.5,160.5 L593.1,164.2 L588.8,168.0 L583.8,170.5 L580.6,169.2Z M602.5,173.0 L606.2,170.5 L608.8,173.0 L606.9,178.0 L604.4,180.5 L603.1,178.0Z M615.0,156.8 L618.8,156.1 L620.6,159.2 L618.8,160.5 L615.6,158.6Z M491.2,141.1 L495.0,140.5 L496.9,143.0 L496.2,147.4 L493.8,145.5 L491.9,143.6Z M620.0,134.2 L623.8,129.9 L630.0,131.1 L636.2,130.5 L641.2,129.2 L645.6,128.6 L644.4,124.9 L640.0,119.9 L645.0,114.9 L647.5,113.0 L653.8,112.4 M620.0,169.2 L626.2,169.9 L632.5,173.0 L638.8,173.0 L645.0,170.5 L650.0,175.5 L655.0,180.5 L657.5,185.5 L662.5,189.2 L668.8,190.5 L672.5,189.9 L673.8,194.2 L671.9,198.0 L672.5,204.2 L673.1,210.5 L675.0,216.8 L672.5,220.5 L677.5,218.0 L682.5,218.0 L685.0,221.8 L686.2,228.0 M620.0,144.2 L622.2,144.2 L623.9,146.2 L626.7,146.2 L628.4,145.5 L629.9,144.4 L631.3,143.3 L632.7,142.2 L633.7,140.3 L635.6,140.3 L636.8,139.0 L638.4,139.8 L640.1,140.6 L642.2,140.5 L644.1,141.0 L644.1,143.9 L645.6,144.9 L647.4,145.6 L648.7,146.8 L649.3,148.7 L651.3,149.2 L652.7,150.3 L654.1,151.4 L655.5,152.5 L657.5,153.8 L656.5,156.0 L657.7,157.3 L657.9,159.0 L659.3,159.4 L660.5,160.9 L662.3,161.2 L663.9,161.9 L665.4,163.1 L666.2,165.4 L668.5,165.5 L670.2,166.5 L671.5,168.3 L673.8,168.7 L675.3,169.2 L676.9,171.0 L678.7,171.4 L680.5,172.3 L682.5,172.2 L684.3,173.2 L686.1,173.6 L688.2,172.6 L690.0,173.6 L692.2,174.5 L693.6,175.6 L693.8,173.7 L693.9,171.6 L693.3,169.7 L692.1,168.4 L689.6,168.5 L689.0,166.6 L686.7,166.8 L685.5,165.6 L685.0,163.6 L684.4,161.8 L681.9,162.4 L681.7,160.0 L680.7,158.8 L678.3,159.0 L678.2,157.0 L677.5,155.5 L675.5,155.1 L675.2,153.3 L673.8,153.0 L675.4,152.4 L677.2,152.9 L678.0,152.6 L679.2,153.8 L681.1,154.1 L683.1,154.3 L684.0,155.5 L685.5,155.8 L686.8,157.2 L688.2,158.2 L690.6,156.9 L691.4,159.3 L693.1,160.2 L695.3,160.2 L696.2,161.6 L698.1,161.9 L699.4,163.8 L698.1,161.1 L701.3,158.8 L700.2,157.1 L699.1,155.4 L697.5,153.8 L698.6,151.5 L698.3,149.4 L695.7,147.8 L696.9,145.1 L696.1,143.4 L694.8,142.1 L693.9,140.5 L692.4,139.4 L692.1,137.2 L690.9,135.8 L688.5,135.7 L688.1,133.7 L686.1,133.1 L684.3,132.4 L683.4,130.8 L681.7,129.5 L682.2,126.5 L681.1,124.8 L678.1,124.4 L678.2,122.0 L676.6,120.6 L675.0,119.1 L674.5,116.5 L675.3,114.6 L677.1,113.7 L678.8,112.4 M682.5,113.0 L684.7,113.3 L685.6,114.9 L686.3,116.6 L688.9,116.9 L689.7,119.5 L691.0,120.7 L691.8,122.4 L694.4,122.5 L695.5,124.5 L696.2,126.8 L697.9,127.6 L698.6,129.4 L700.3,129.9 L701.4,131.6 L703.9,131.9 L704.3,130.0 L704.9,127.4 L703.0,126.3 L702.1,124.7 L702.2,123.3 L702.6,121.4 L702.6,119.4 L704.3,118.3 L705.7,117.7 L706.6,115.5 L709.5,113.8 L707.5,112.4 M730.0,228.0 L726.7,227.4 L727.0,225.1 L725.6,224.2 L725.5,222.2 L724.1,221.3 L723.7,219.8 L720.8,219.5 L720.8,217.6 L720.2,216.0 L718.7,214.9 L718.3,213.2 L717.2,212.0 L716.6,210.2 L714.3,209.5 L714.4,207.3 L713.4,205.8 L712.1,204.6 L711.3,203.2 L711.1,201.3 L709.9,200.2 L708.5,199.3 L707.9,197.8 L706.3,196.3 L706.4,194.6 L706.2,196.1 L704.7,197.4 L703.1,198.7 L701.4,200.3 L701.3,202.2 L701.8,204.2 L700.2,205.9 L701.4,208.0 L700.0,209.7 L700.9,211.8 L699.6,213.5 L698.8,214.9 L699.7,217.4 L699.2,219.2 L697.2,220.3 L696.2,222.3 L695.4,224.4 L695.7,226.6 L693.8,228.0 M620.0,144.2 L622.1,144.4 L624.2,144.9 L626.1,145.3 L628.3,145.4 L629.5,143.8 L631.3,143.2 L632.9,142.8 L634.3,141.8 L635.6,140.5 L637.4,140.5 L638.5,139.6 L640.1,140.5 L641.7,141.4 L643.6,141.8 L644.7,143.3 L646.0,144.5 L646.6,146.4 L648.2,147.3 L649.3,148.7 L650.7,149.8 L651.9,151.1 L653.5,152.0 L655.3,152.7 L656.9,154.0 L656.3,156.0 L656.5,157.8 L658.0,159.0 L659.2,159.6 L659.9,162.1 L661.9,162.0 L663.5,162.8 L665.7,162.5 L666.7,164.7 L668.0,166.3 L670.1,166.6 L671.9,167.7 L673.1,169.6 L675.3,169.2 L676.9,171.0 L678.4,172.6 L680.5,172.4 L682.5,172.1 L684.3,173.2 L686.2,173.3 L688.3,172.5 L690.3,172.9 L691.8,175.6 L693.7,175.6 L692.9,173.8 L694.4,171.1 L692.5,170.5 L691.0,169.5 L690.0,168.0 L689.2,166.4 L686.9,166.5 L686.5,164.4 L685.4,163.2 L684.3,161.9 L682.1,162.1 L681.4,160.4 L679.5,160.2 L678.9,158.5 L677.0,157.9 L677.4,155.6 L676.6,154.2 L674.4,153.9 L673.7,151.6 L675.6,153.5 L677.2,152.5 L678.1,152.5 L680.9,151.9 L680.5,154.8 L682.3,155.3 L683.9,155.6 L685.4,156.4 L686.7,157.8 L688.2,158.3 L690.4,157.2 L691.5,159.1 L693.8,158.8 L694.2,161.5 L696.4,161.4 L696.8,163.5 L699.4,163.8 L699.7,161.5 L699.4,159.5 L699.4,157.4 L697.8,155.8 L697.2,153.9 L698.1,151.6 L696.7,149.7 L697.4,147.4 L695.6,145.9 L695.8,143.6 L694.9,142.1 L693.0,141.1 L691.7,140.0 L691.0,138.2 L690.0,136.8 L688.0,136.3 L686.9,134.9 L685.4,133.9 L685.2,131.6 L684.6,129.8 L681.9,129.3 L680.2,127.9 L680.5,125.2 L679.7,123.4 L679.0,121.5 L677.2,120.4 L675.5,118.8 L675.8,117.2 L675.0,114.4 L677.0,113.5 L678.8,112.4 M682.5,113.0 L684.6,113.4 L685.2,115.3 L686.3,116.7 L688.3,117.7 L690.7,118.6 L691.8,120.0 L691.9,122.4 L693.8,122.9 L694.8,125.0 L696.8,126.2 L697.1,128.4 L699.1,128.9 L699.9,130.7 L701.1,132.2 L704.5,132.0 L702.2,129.7 L704.5,127.6 L703.8,125.9 L701.6,124.9 L700.9,122.9 L702.1,121.2 L702.9,120.4 L704.3,118.4 L707.1,118.6 L708.1,116.5 L707.9,114.8 L707.5,112.4 M730.0,228.0 L728.4,226.0 L725.4,226.3 L724.7,224.9 L724.9,222.7 L722.5,222.5 L722.2,220.7 L720.8,219.6 L720.7,217.6 L720.8,215.7 L720.2,214.1 L717.2,213.9 L716.5,212.4 L717.3,209.7 L714.4,209.5 L714.0,207.6 L712.6,206.3 L711.6,205.0 L710.5,203.8 L710.8,201.5 L710.0,200.1 L708.9,198.9 L708.4,197.6 L707.0,195.9 L705.9,194.4 L704.7,195.3 L703.0,196.6 L703.0,198.7 L703.2,200.6 L703.4,202.6 L700.7,204.0 L701.3,206.1 L701.7,208.1 L700.6,209.8 L700.5,211.7 L700.3,213.6 L701.1,216.0 L699.5,217.4 L698.6,218.9 L698.2,221.0 L695.4,221.8 L695.2,224.3 L693.9,226.0 L693.8,228.0 M656.2,129.9 L661.2,135.5 L663.8,139.9 L657.5,141.1 L655.0,138.0 L655.6,133.0Z M770.0,115.5 L771.2,116.5 L772.5,116.7 L772.9,116.1 L773.5,117.2 L776.2,116.8 L774.2,119.9 L778.1,118.5 L775.6,121.2 L776.3,122.2 L776.8,123.2 L780.7,122.8 L781.0,123.9 L778.2,126.3 L780.1,126.7 L781.2,127.5 L779.3,130.0 L783.8,128.7 L782.4,131.0 L783.4,131.8 L785.1,131.9 L784.9,133.6 L784.4,135.4 L784.5,136.8 L788.4,135.1 L787.2,137.5 L789.6,137.1 L787.6,140.2 L791.0,138.9 L791.9,139.6 L791.3,141.6 L790.7,143.5 L793.0,143.2 L794.4,143.5 L793.0,146.7 L794.0,147.4 L795.0,148.2 L797.4,146.6 L798.1,147.7 L799.6,147.6 L799.8,149.4 L801.4,149.5 L802.2,150.4 L801.5,152.7 L801.8,154.1 L803.9,153.7 L806.0,152.6 L805.7,155.5 L807.2,155.3 L806.9,158.1 L808.6,157.7 L809.4,158.8 L810.9,158.9 L812.4,158.6 L813.1,160.6 L815.7,160.7 L815.6,157.9 L816.3,156.8 L817.7,157.2 L819.0,157.3 L818.5,155.6 L820.2,155.3 L821.8,155.0 L820.5,152.4 L824.2,153.7 L823.5,152.4 L825.3,151.3 L826.6,151.7 L828.0,152.5 L829.0,153.3 L828.5,155.7 L830.3,155.8 L831.2,156.9 L833.3,156.2 L832.1,159.8 L834.8,158.3 L835.7,159.1 L835.1,158.8 L838.5,161.8 L838.1,159.2 L840.2,160.3 L840.5,160.0 L841.8,159.9 L842.9,158.8 L844.2,159.0 L847.0,157.2 L846.7,155.9 L843.9,153.8 L846.0,153.0 L846.6,151.7 L848.2,149.9 L846.9,148.9 L846.3,147.8 L846.2,146.5 L844.1,145.6 L846.6,143.8 L844.9,142.9 L843.5,141.8 L843.6,140.5 L845.8,138.8 L843.4,138.0 L841.4,137.1 L841.1,135.8 L843.4,134.0 L842.5,132.9 L843.8,131.3 L840.1,130.9 L840.9,129.5 L841.3,127.6 L838.0,128.8 L837.4,127.7 L838.2,125.3 L836.7,126.3 L835.4,126.7 L834.5,125.7 L834.4,124.5 L834.3,123.0 L832.7,121.1 L833.0,120.0 L836.9,119.7 L836.3,118.2 L834.4,116.4 L837.8,116.3 L834.8,113.2 L837.5,113.0 M770.0,113.0 L771.1,113.7 L769.5,115.7 L770.6,116.5 L772.9,116.5 L770.9,119.0 L772.7,119.2 L772.3,120.8 L772.8,121.9 L775.1,121.4 L776.0,123.0 L777.4,122.8 L780.3,124.5 L780.7,123.1 L781.4,121.9 L782.6,121.3 L784.5,120.6 L782.2,117.7 L782.6,116.6 L785.4,117.1 L786.2,114.9 L784.4,114.2 L783.8,113.0 M770.0,115.5 L771.2,115.4 L772.5,115.0 L772.3,116.6 L773.4,117.4 L774.9,117.7 L777.8,117.2 L775.4,120.5 L777.7,120.4 L779.3,121.0 L779.2,122.2 L777.9,124.0 L781.4,123.8 L781.3,125.0 L780.8,126.3 L779.0,128.7 L780.2,129.4 L779.9,131.0 L782.3,131.0 L782.8,132.1 L783.6,133.2 L784.4,134.0 L785.0,134.9 L784.7,136.6 L784.9,137.9 L787.7,137.2 L787.5,138.7 L789.5,138.7 L790.2,139.5 L790.2,141.1 L790.6,142.2 L791.4,143.0 L790.5,145.1 L794.3,143.6 L793.4,146.1 L793.6,148.2 L795.3,147.7 L796.7,147.6 L798.2,147.5 L799.2,148.2 L798.5,150.7 L799.5,151.4 L801.1,151.5 L801.1,153.1 L801.9,154.0 L803.0,154.6 L805.3,153.8 L806.1,154.7 L806.4,156.7 L808.4,155.6 L808.6,157.8 L810.3,157.3 L811.5,157.3 L812.6,158.2 L814.3,157.1 L814.7,158.6 L815.8,158.4 L816.0,156.2 L817.3,156.3 L818.5,156.2 L821.4,157.8 L821.1,156.0 L820.7,154.1 L824.2,155.2 L822.1,152.1 L823.7,151.8 L824.6,153.3 L826.0,153.5 L827.7,152.8 L827.5,154.9 L829.4,154.8 L829.6,156.5 L831.3,156.7 L830.9,159.3 L832.6,159.1 L835.4,157.4 L836.3,158.3 L837.5,162.4 L836.5,158.8 L836.9,157.4 L838.4,157.6 L840.0,157.9 L841.8,159.8 L842.4,156.9 L844.0,158.1 L846.6,157.1 L843.4,155.0 L846.1,154.4 L848.2,153.6 L846.5,151.7 L846.1,150.5 L844.9,149.4 L847.4,147.5 L847.2,146.3 L842.9,145.9 L844.7,144.2 L843.9,143.1 L844.8,141.6 L842.0,140.9 L842.4,139.5 L842.2,138.2 L842.9,136.8 L844.1,135.2 L844.2,133.8 L843.5,132.7 L842.7,131.5 L839.6,131.0 L840.8,129.6 L841.1,127.8 L838.9,128.0 L838.9,126.4 L838.7,123.6 L836.5,127.0 L836.4,123.2 L834.3,126.4 L833.2,124.1 L836.0,123.6 L833.2,121.3 L835.1,120.5 L834.9,119.2 L837.4,118.5 L838.2,117.3 L835.3,115.0 L836.8,114.2 L837.5,113.0 M770.0,113.0 L768.8,114.8 L770.8,115.1 L772.7,115.4 L770.9,117.6 L773.2,117.6 L773.2,118.9 L775.7,118.6 L772.4,122.1 L774.8,122.5 L775.6,124.1 L776.8,124.7 L778.0,122.2 L779.8,122.2 L780.4,120.9 L782.4,121.1 L783.9,120.2 L782.0,117.6 L782.8,116.8 L785.2,117.0 L784.6,115.7 L782.8,115.0 L783.8,113.0 M478.2,364.8 L487.0,359.8 L494.5,356.0 L503.2,352.2 L509.5,348.5 L514.5,346.0 L519.5,341.6 L527.0,344.8 L534.5,347.2 L537.0,352.2 L538.2,357.2 L543.2,359.1 L547.0,361.0 L545.8,366.0 L548.2,371.0 L548.2,373.5 L545.8,376.6 L538.2,376.0 L532.0,376.0 L527.0,377.2 L522.0,373.5 L518.2,369.8 L512.0,369.8 L515.8,366.0 L519.5,362.9 L515.8,362.2 L513.2,362.9 L508.2,364.8 L503.2,366.0 L499.5,367.9 L495.8,369.8 L492.0,367.9 L489.5,367.2 L484.5,366.0 L478.2,364.8 M515.8,349.8 L530.8,362.2 L545.8,374.8 M517.0,393.5 L520.8,391.0 L524.5,388.5 L527.0,386.0 L532.0,384.8 L539.5,384.1 L543.2,387.2 L542.0,391.0 L537.0,394.8 L532.0,398.5 L527.0,403.5 L524.5,411.0 L525.8,421.0 L524.5,427.2 L520.8,434.8 L515.8,439.1 L512.0,439.8 L509.5,433.5 L509.5,421.0 L510.8,411.0 L512.0,399.8 L514.5,396.6 L517.0,394.8 M595.8,336.0 L595.1,348.5 L594.5,371.0 L597.0,379.8 L603.2,386.0 L612.0,389.8 L617.0,393.5 L622.0,397.2 M509.5,439.8 L537.0,442.2 L552.0,443.8 M540.0,384.2 L544.2,387.3 L549.4,392.5 L555.6,396.7 L556.7,399.8 L555.6,401.9 L556.1,403.4 L555.1,409.2 L552.5,411.2 L550.4,413.3 L548.9,416.5 L550.9,418.5 L553.5,416.5 L555.1,414.4 L558.2,413.3 L560.3,414.4 L561.4,417.5 L561.9,421.7 L562.4,425.3 L562.4,429.0 M550.4,380.0 L551.5,386.8 L555.6,386.8 L555.1,389.9 L558.2,392.5 L564.0,396.7 L565.5,420.6 L562.9,426.9 M563.4,426.9 L569.2,424.3 L570.2,414.4 L575.4,407.6 L575.4,403.4 L572.3,398.8 L575.4,399.3 L578.5,405.0 L581.7,407.6 L586.9,410.2 L589.5,406.0 L587.9,402.4 L585.8,397.7 L582.7,393.0 L581.1,390.4 L576.5,389.4 L573.3,387.8 L567.1,385.2 L560.8,385.2 L551.5,382.1 L546.2,380.0 M558.8,388.9 L563.4,390.4 L567.1,388.9 L570.2,389.9 L573.3,392.0 L571.2,395.1 L568.1,394.1 L565.0,392.0 L559.8,389.9Z M509.5,218.0 L508.9,224.2 L506.4,228.6 L520.8,227.4 L527.0,233.0 L533.2,236.8 M533.2,236.8 L539.5,243.0 L540.8,249.2 L547.0,253.0 L553.2,256.8 L558.2,262.4 L567.0,263.0 L579.5,266.1 L578.9,271.8 L577.6,279.2 L578.9,288.0 L577.0,295.5 L579.5,300.5 L582.0,305.5 L588.2,313.0 L590.8,318.0 L593.2,320.5 L596.4,321.8 M596.4,321.8 L598.2,316.8 L602.0,315.5 L604.5,318.0 L607.0,308.0 L604.5,298.0 L603.9,288.0 L603.2,280.5 L599.5,275.5 L614.5,268.0 L622.0,259.2 L624.5,253.0 L623.9,240.5 L620.8,231.8 L615.8,225.5 L612.0,221.8 L610.8,218.0 M596.4,321.8 L595.8,338.0 M578.2,295.5 L582.0,293.6 L587.0,293.0 L589.5,298.0 L588.9,300.5 L584.5,298.0 L579.5,296.8Z M598.2,253.0 L603.2,249.2 L606.4,251.8 L604.5,258.0 L598.2,260.5 L597.6,256.8Z M482.0,258.0 L487.0,254.2 L492.0,255.5 L489.5,257.4 L484.5,258.6Z M478.9,264.2 L482.0,264.2 L485.8,267.4 L482.0,268.6 L479.5,267.4Z M482.0,311.8 L487.0,315.5 L492.0,314.2 L497.0,313.6 L493.2,318.0 L488.2,318.0 L484.5,315.5Z M514.5,326.8 L519.5,324.2 L523.2,328.0 L522.0,335.5 L517.0,335.5 L514.5,331.8Z M670.0,220.5 L672.5,218.0 M711.2,218.0 L712.5,224.2 L716.2,230.5 L716.9,236.8 L716.2,243.0 L718.8,249.2 L722.5,255.5 L726.2,261.8 L723.8,268.0 L717.5,273.0 L715.0,275.5 L712.5,280.5 L711.2,286.8 L708.8,285.5 L702.5,280.5 L696.2,278.0 L693.8,280.5 L697.5,288.0 L700.0,291.8 L700.0,299.2 L705.0,295.5 L706.2,304.2 L712.5,306.8 L717.5,306.8 L721.2,310.5 L723.8,305.5 L723.8,300.5 L726.2,298.0 L727.5,305.5 L780.0,295.5 M620.0,229.2 L623.8,233.0 L625.0,243.0 L623.8,253.0 L620.0,260.5 M705.0,338.0 L710.0,333.0 L720.0,330.5 L730.0,329.2 L740.0,328.0 L752.5,325.5 L761.2,321.8 L766.2,315.5 L770.0,310.5 L775.0,305.5 L780.0,303.0 M682.5,328.0 L683.8,338.0 M697.5,265.5 L702.5,270.5 L707.5,276.8 L712.5,283.0 L715.0,285.5 M701.2,268.0 L707.5,273.0 L711.2,276.8 M715.0,218.0 L716.9,218.9 L718.8,219.9 L720.2,221.5 L721.2,222.8 L722.6,223.6 L723.0,225.7 L725.9,224.6 L727.1,226.2 L725.9,229.1 L727.8,230.1 L728.7,231.6 L729.6,233.2 L731.6,234.3 L732.0,236.2 L733.4,238.3 L733.0,240.2 L730.1,242.9 L731.9,243.6 L732.8,245.2 L736.2,244.3 L735.8,247.2 L738.0,247.5 L738.8,249.2 L739.6,251.0 L742.6,250.5 L743.6,252.6 L744.8,254.3 L744.2,256.2 L745.8,257.6 L746.1,258.6 L748.4,259.2 L750.5,258.7 L752.7,257.3 L754.1,258.6 L756.0,258.1 L757.5,257.6 L759.4,258.6 L761.2,257.8 L763.1,259.2 L765.0,259.3 L765.9,261.3 L767.7,261.8 L769.3,262.8 L769.8,263.7 L773.1,265.0 L774.1,266.9 L775.7,268.3 L777.5,270.1 L776.8,272.4 L777.5,274.3 L780.0,273.0 M715.0,218.0 L717.4,218.2 L717.5,221.6 L719.0,223.0 L722.2,221.6 L723.6,222.4 L724.7,223.6 L724.5,226.4 L725.2,227.4 L728.5,227.6 L729.6,229.0 L729.0,231.5 L730.5,232.7 L732.3,233.9 L733.2,235.6 L733.4,238.3 L732.8,240.2 L731.7,241.3 L732.4,243.1 L734.3,243.7 L735.6,244.9 L736.9,246.1 L736.6,248.9 L739.4,248.6 L739.9,250.7 L741.8,251.6 L743.7,252.5 L745.3,254.2 L747.0,255.5 L746.9,257.3 L746.3,259.7 L748.5,259.7 L750.2,257.5 L752.8,256.9 L753.8,259.8 L756.2,257.5 L757.5,260.3 L759.4,260.5 L761.2,258.0 L763.1,260.4 L765.6,258.2 L767.4,258.9 L768.5,260.5 L770.0,261.6 L771.0,263.1 L772.7,265.4 L773.0,267.8 L774.6,269.2 L777.5,270.1 L777.8,272.1 L777.9,275.0 L780.0,273.0 M750.0,284.2 L755.0,280.5 L760.0,276.8 L765.0,271.8 L770.0,269.2 L765.0,273.0 L757.5,278.0 L752.5,283.0Z M636.2,255.5 L640.0,254.2 L643.1,256.8 L642.5,259.2 L638.8,258.0Z M647.5,270.5 L652.5,268.6 L656.2,269.2 L653.8,271.8 L648.8,272.4Z M642.5,333.0 L645.0,326.8 L648.8,321.8 L653.8,320.5 L651.2,324.2 L647.5,328.0 L645.0,333.0Z M683.8,314.2 L687.5,311.1 L691.2,313.6 L691.5,318.0 L688.1,321.8 L685.0,319.5Z M715.0,276.8 L720.0,274.2 L725.0,276.8 L727.5,279.2 L723.8,280.5 L718.8,279.2Z M740.0,250.0 L741.9,250.6 L741.1,253.3 L742.5,254.3 L744.8,254.5 L745.7,255.9 L746.5,256.9 L747.9,257.9 L749.6,258.1 L751.4,258.2 L752.6,259.3 L754.8,259.6 L756.7,260.4 L758.7,261.1 L761.0,261.9 L763.0,260.9 L764.9,260.3 L766.2,261.6 L768.2,261.0 L769.8,261.7 L771.9,262.3 L771.0,264.7 L771.7,266.9 L772.8,268.6 L774.8,269.8 L776.5,270.2 L778.2,270.5 L779.4,272.9 L780.8,273.5 L782.9,273.4 L784.1,275.2 L785.1,275.4 L786.2,276.8 L787.8,278.0 L788.2,279.6 L789.1,281.1 L789.8,282.8 L790.5,284.5 L792.6,285.9 L792.7,287.7 L793.0,289.4 L792.3,291.2 L790.7,292.5 L790.3,294.3 L790.7,296.9 L788.8,297.6 L787.2,298.5 L787.0,300.7 L785.8,302.1 L783.5,302.3 L783.0,304.3 L781.0,304.7 L780.2,306.7 L777.6,306.0 L776.8,308.3 L775.1,308.9 L773.2,309.9 L771.0,310.4 L769.0,311.9 L768.2,313.5 L767.6,315.2 L768.0,317.7 L766.7,319.0 L764.9,319.9 L762.8,320.3 L762.1,322.1 L761.9,324.4 L760.1,325.4 L757.7,324.4 L756.2,326.2 L754.0,325.9 L752.4,326.5 L750.7,326.8 L748.9,327.3 L747.1,327.3 L745.4,328.3 L743.6,329.0 L741.7,326.8 L740.0,328.1 M795.0,298.8 L797.9,300.8 L795.6,302.6 L794.5,304.3 L793.4,306.1 L795.3,308.2 L795.1,310.2 L793.0,311.6 L793.9,313.9 L793.2,315.7 L792.9,317.6 L793.3,319.8 L790.5,321.4 L791.7,324.1 L791.4,321.1 L793.8,318.9 L795.6,319.0 L797.7,319.7 L798.8,322.2 L801.8,321.7 L803.5,323.1 L804.9,324.5 L806.7,324.6 L808.6,325.3 L810.0,323.9 L811.9,324.4 L813.4,323.0 L815.0,322.3 L816.4,323.9 L818.3,323.6 L820.1,323.7 L820.6,325.6 L821.5,327.2 L823.2,328.6 L825.8,329.2 L826.8,330.7 L826.8,332.8 L829.3,333.7 L829.9,335.5 L830.8,337.0 L831.6,339.2 L833.7,340.9 L833.4,342.9 L833.2,344.8 L833.5,346.6 L833.5,348.5 L836.1,350.4 L834.0,351.7 L834.6,354.0 L833.5,355.8 L832.5,357.3 L830.2,357.0 L828.2,357.9 L827.4,358.0 L823.9,357.6 L823.2,355.1 L823.5,353.3 L822.0,351.8 L821.9,350.2 L822.5,348.4 L822.9,346.6 L823.1,345.8 L821.3,347.3 L819.2,347.8 L817.0,348.8 L816.1,350.7 L813.7,352.0 L814.1,354.0 L812.7,355.2 L812.9,357.1 L812.5,358.8 L810.9,359.4 L809.5,360.7 L806.3,360.0 L807.9,358.1 L808.4,356.7 L807.1,354.0 L808.4,352.5 L809.8,351.7 L808.1,350.9 L807.1,348.7 L805.3,349.4 L803.6,350.1 L801.7,350.4 L799.6,350.1 L798.3,352.4 L796.1,352.1 L794.8,354.3 L792.5,353.9 L790.6,352.8 L789.1,355.0 L787.3,354.9 L785.4,354.3 L783.7,354.8 L781.8,355.4 L779.9,356.0 L778.0,356.4 L775.9,357.8 L774.0,355.1 L773.9,353.4 L774.0,351.7 L773.9,350.1 L775.4,348.5 L774.8,346.1 L776.1,344.3 L778.3,342.9 L779.5,341.4 L778.5,338.8 L780.6,337.6 L779.7,335.3 L781.5,333.5 L780.0,330.9 L781.7,329.7 L782.4,328.2 L783.2,326.7 L784.3,325.1 L784.1,323.2 L783.6,321.3 L783.6,319.4 L782.4,317.3 L784.2,315.6 L784.5,313.8 L785.4,312.0 L784.2,309.6 L786.1,308.4 L785.5,306.1 L787.9,305.5 L789.3,304.7 L789.9,302.9 L791.6,302.4 L792.8,301.4 L793.4,299.6 L795.0,298.8 M740.0,250.0 L741.9,250.5 L741.5,253.0 L743.4,253.5 L744.9,254.4 L745.3,256.1 L745.9,258.4 L747.3,259.3 L749.3,258.9 L750.4,260.6 L752.7,259.1 L754.6,260.4 L756.9,259.5 L758.6,260.5 L761.0,261.9 L762.7,259.2 L764.8,260.4 L766.6,260.6 L767.6,262.5 L769.2,263.2 L772.3,262.2 L772.5,264.2 L771.4,267.1 L774.1,267.6 L775.7,269.0 L776.0,272.4 L777.8,272.0 L779.7,271.6 L781.2,272.6 L783.0,273.2 L784.6,274.1 L786.1,275.1 L787.7,276.2 L787.2,278.2 L786.9,280.2 L788.5,281.4 L788.9,283.3 L791.0,284.3 L792.2,286.0 L793.0,287.6 L790.8,289.9 L793.5,291.7 L792.0,293.1 L790.4,294.4 L789.5,295.8 L788.5,297.3 L787.6,298.9 L785.6,299.4 L785.1,301.4 L783.1,301.8 L783.4,304.6 L780.9,304.5 L780.3,306.9 L778.3,307.1 L776.6,307.9 L775.5,309.5 L773.4,310.1 L771.1,310.5 L771.1,313.2 L769.7,314.5 L766.9,314.8 L767.1,317.1 L766.3,318.7 L764.2,319.2 L763.2,320.7 L763.1,323.1 L761.1,323.6 L760.3,325.8 L757.9,324.9 L756.2,326.1 L754.1,326.1 L752.6,328.7 L750.7,326.4 L749.0,328.4 L747.1,326.8 L745.4,328.0 L743.5,326.9 L741.8,329.1 L740.0,328.1 M795.0,298.8 L797.9,300.7 L795.1,302.5 L793.6,304.3 L794.8,306.3 L794.5,308.1 L795.3,310.2 L793.8,311.8 L793.6,313.8 L791.9,315.4 L791.8,317.4 L792.1,319.6 L792.6,321.9 L790.4,323.2 L793.6,322.6 L793.8,320.3 L795.6,319.2 L797.0,320.7 L799.8,320.6 L801.3,322.4 L802.5,324.6 L804.7,323.9 L806.4,323.5 L808.0,323.0 L809.8,322.8 L811.6,323.0 L813.2,322.4 L815.1,321.9 L817.0,321.6 L818.3,323.3 L820.1,323.7 L820.0,325.8 L821.6,327.0 L823.0,328.9 L825.4,329.6 L825.7,331.8 L828.3,332.1 L828.4,334.2 L829.3,335.8 L830.1,337.4 L831.2,339.4 L832.4,341.3 L833.5,342.9 L832.6,345.0 L832.8,346.8 L834.3,348.3 L834.6,349.9 L833.8,351.7 L834.2,353.9 L832.9,355.5 L832.5,357.6 L830.4,358.0 L828.4,358.6 L826.3,358.7 L824.3,357.3 L823.0,355.1 L822.7,353.4 L823.6,351.6 L822.4,350.1 L823.7,348.2 L823.8,346.5 L822.1,344.4 L820.9,346.7 L817.8,346.8 L817.8,349.4 L816.6,351.1 L814.8,352.4 L814.0,353.9 L814.0,355.7 L812.4,356.9 L812.3,357.8 L811.0,359.7 L809.4,360.3 L807.2,360.0 L808.1,358.1 L807.9,356.5 L807.5,354.2 L808.9,352.8 L810.5,350.2 L808.9,349.3 L806.8,349.3 L804.6,348.0 L802.9,348.7 L802.0,351.1 L800.4,352.4 L798.0,351.6 L796.4,352.8 L794.2,352.6 L792.6,354.3 L790.8,354.2 L788.9,353.4 L787.4,355.6 L785.5,355.0 L784.1,355.9 L781.8,355.5 L779.8,355.6 L777.7,355.6 L776.8,357.1 L773.4,355.1 L774.0,353.4 L774.1,351.7 L774.1,350.1 L774.9,348.3 L776.1,347.0 L777.3,345.1 L776.8,342.1 L777.5,340.4 L780.3,339.8 L779.1,337.3 L781.7,335.7 L779.8,333.1 L781.5,331.3 L780.7,329.4 L781.2,327.8 L782.2,326.4 L783.9,325.1 L783.8,323.2 L782.9,321.2 L782.6,319.3 L783.4,317.4 L783.2,315.5 L783.6,313.6 L784.7,311.9 L785.0,310.0 L786.9,308.9 L785.6,306.2 L787.6,305.1 L788.9,304.1 L789.4,302.2 L791.0,301.7 L791.9,300.2 L794.5,300.8 L795.0,298.8 M740.0,304.4 L782.5,296.2 L783.5,302.5 M749.4,285.0 L756.2,278.1 L761.2,273.8 L767.5,270.0 L771.2,268.8 M740.0,335.0 L746.2,337.5 L750.0,340.0 L748.8,342.5 L740.0,341.9 M620.0,397.5 L625.0,398.8 L632.5,397.5 L638.8,398.1 L641.9,400.0 L645.0,398.1 L648.8,395.0 L652.5,391.2 L657.5,387.5 L662.5,382.5 L668.8,380.0 L673.8,376.9 L677.5,372.5 L681.2,366.2 L685.0,360.0 L690.0,353.8 L695.0,347.5 L701.2,343.8 L702.5,338.8 L707.5,332.5 L715.0,330.0 M620.0,416.2 L627.5,411.2 L636.2,405.0 L645.0,401.2 L650.0,397.5 L655.0,391.2 L661.2,386.2 L668.8,381.2 L673.8,377.5 L677.5,373.8 L680.0,368.8 L683.8,363.8 L688.8,358.8 L695.0,353.8 L701.2,350.0 L707.5,346.9 L713.8,345.0 L720.0,344.4 L726.2,346.2 L730.0,350.0 L728.8,355.0 L725.0,358.1 L720.0,360.0 M688.1,371.9 L685.0,373.8 L682.5,377.5 L680.0,382.5 L678.8,387.5 L677.5,393.8 L675.0,397.5 L671.2,400.0 L668.8,402.5 M695.0,363.8 L693.8,367.5 L695.0,371.2 L700.0,372.5 L701.2,382.5 L701.2,392.5 L705.0,395.0 L706.2,400.0 L710.0,400.6 M650.6,405.0 L651.2,410.0 L651.0,416.2 M695.0,363.8 L696.6,363.0 L698.1,362.1 L700.0,362.5 L701.9,362.1 L703.9,362.3 L705.7,361.5 L707.4,360.0 L709.3,361.2 L710.7,359.2 L712.6,360.4 L714.2,358.8 L716.1,360.0 L718.2,359.1 L719.5,360.3 L720.7,362.2 L722.6,364.3 L724.2,362.7 L726.4,363.1 L727.3,365.2 L726.5,367.3 L725.3,368.8 L725.6,370.8 L724.7,372.7 L726.0,374.6 L728.1,375.9 L729.0,378.0 L730.3,379.9 L730.1,382.0 L731.4,383.7 L732.1,385.5 L732.4,387.4 L731.7,389.7 L730.5,391.9 L728.6,392.9 L727.2,394.5 L724.8,394.7 L723.4,395.9 L721.6,396.5 L720.0,397.4 L718.6,399.0 L716.4,398.2 L714.8,398.8 L713.6,400.7 L711.7,400.3 L709.5,400.5 L709.5,402.9 L708.4,404.4 L706.7,405.9 L704.9,407.2 L703.0,407.6 L701.4,408.7 L700.0,409.8 L698.6,411.3 L696.7,410.9 L694.7,411.0 L693.7,412.5 L692.4,413.6 L691.0,414.9 L688.9,414.8 L687.8,416.7 L685.5,417.3 L683.9,418.8 L683.1,421.0 L682.1,422.9 L681.1,424.5 L680.0,426.0 L678.8,427.5 L678.8,429.6 L677.9,431.2 L675.7,432.3 L674.7,434.1 L675.1,436.3 L674.4,438.1 L673.6,440.1 L675.1,441.3 L674.9,443.2 L675.3,444.8 L675.6,446.9 L677.3,447.7 L678.7,448.8 L680.0,450.0 M718.8,407.5 L719.2,409.3 L718.6,411.4 L719.6,413.1 L720.0,415.0 L720.9,416.6 L722.6,417.4 L724.1,418.0 L726.4,420.1 L728.0,419.3 L728.6,417.3 L729.4,415.7 L730.7,414.4 L733.1,414.3 L733.2,411.9 L735.3,411.4 L735.6,408.9 L737.5,407.5 L739.8,406.9 L741.0,404.5 L742.7,403.8 L744.7,403.5 L746.3,402.6 L747.9,401.7 L749.3,400.4 L750.5,398.9 L752.6,398.9 L754.0,397.5 L755.9,397.3 L757.4,396.1 L759.0,395.0 L761.3,395.5 L762.2,393.5 L764.4,393.2 L765.0,391.3 L763.1,390.6 L761.1,390.4 L759.2,390.0 L757.5,388.3 L755.8,388.8 L754.2,388.6 L752.4,389.4 L750.4,388.3 L748.4,387.6 L746.4,387.0 L744.2,386.8 L742.0,386.8 L740.2,385.9 L738.2,384.8 L736.3,383.8 L734.3,384.1 L732.9,385.1 L732.7,387.2 L731.8,389.1 L729.2,390.1 L728.1,392.1 L727.0,394.0 L726.6,396.5 L724.5,397.5 L723.3,399.2 L722.4,401.2 L721.6,403.3 L720.7,405.4 L718.8,407.5 M758.8,383.8 L760.3,382.4 L760.9,380.8 L761.3,379.0 L761.1,377.0 L762.3,375.6 L763.2,374.2 L763.5,372.2 L763.7,370.2 L766.1,369.6 L766.2,367.6 L767.6,368.8 L768.1,370.9 L769.4,372.8 L768.8,374.9 L771.2,375.4 L772.9,377.4 L772.2,379.7 L773.5,381.0 L772.4,382.4 L771.8,384.3 L769.9,384.6 L768.3,385.2 L766.6,385.6 L765.0,385.9 L763.3,385.4 L761.7,386.4 L760.2,386.2 L758.8,383.8 M732.5,373.8 L733.1,375.6 L733.7,377.7 L735.5,378.5 L737.5,378.1 L739.2,377.9 L740.8,378.0 L742.7,377.9 L744.1,379.3 L745.9,379.2 L747.1,380.4 L749.2,380.8 L749.4,382.2 L751.8,379.5 L749.4,379.3 L748.7,377.2 L750.4,377.8 L752.1,377.5 L753.8,377.7 L751.8,378.3 L749.6,377.7 L747.4,378.6 L745.9,377.2 L744.1,378.2 L742.6,376.6 L740.7,378.2 L739.2,376.9 L737.2,377.2 L736.2,375.7 L734.9,374.5 L733.8,373.1 M773.8,346.2 L775.5,345.0 L775.7,342.5 L777.7,341.7 L780.0,340.0 M773.8,355.0 L775.8,356.4 L776.3,359.0 L778.3,358.7 L780.0,357.5 M725.0,333.8 L732.5,337.5 L740.0,340.0 L747.5,341.9 L751.2,341.2 L748.8,338.8 L742.5,336.2 L735.0,333.8 L728.8,333.1Z M728.8,394.4 L742.5,393.5 L735.0,397.5Z M631.9,358.8 L635.0,355.0 L638.8,356.2 L642.5,360.0 L637.5,361.2 L632.5,360.6Z M658.1,356.2 L661.2,355.0 L663.8,357.5 L661.2,359.4 L658.8,358.1Z M670.0,346.2 L673.8,342.5 L677.5,341.2 L680.0,346.2 M642.5,332.5 L645.0,330.0 M647.5,458.1 L655.0,454.4 L663.8,451.9 L670.0,450.2 L677.5,448.8 L683.8,447.5 L685.0,445.0 L681.9,441.2 L678.8,438.8 L676.9,435.0 L676.2,430.0 L678.8,425.0 L681.9,421.2 L685.0,417.5 L691.2,413.1 L697.5,410.6 L701.2,410.0 M645.0,463.1 L643.8,467.5 L642.5,472.5 L641.2,477.5 L638.8,481.2 L635.6,485.0 L633.8,486.2 L631.2,483.8 L630.0,480.0 L628.8,476.2 L628.1,475.0 M626.2,477.5 L622.5,478.8 L620.0,481.2 L618.1,485.0 L618.8,490.0 L620.0,495.0 L618.8,500.0 L616.2,505.0 L615.0,510.0 L618.8,513.8 L622.5,516.2 M627.5,477.5 L625.0,480.0 L622.5,485.0 L622.5,491.2 L623.8,497.5 L622.5,502.5 L623.1,510.0 M633.8,486.2 L633.1,491.2 L631.9,496.2 L628.8,501.2 L625.0,506.2 L623.1,510.0 M610.0,487.5 L612.5,491.2 L616.2,496.2 L618.8,500.0 M613.8,497.5 L617.5,502.5 L618.8,505.0 M613.8,507.5 L617.5,510.0 L619.4,511.2 M622.5,516.2 L623.8,520.0 L625.6,525.0 L627.5,530.0 M615.0,523.8 L620.0,522.5 L623.8,523.8 M647.5,458.8 L652.5,456.2 L660.0,456.2 L661.2,457.5 L656.2,460.0 L650.0,461.2 L645.0,462.5 L642.5,463.8 L645.0,460.0Z M623.8,513.8 L626.2,521.2 L627.5,527.5 L623.8,530.0 L620.0,533.8 L618.8,538.8 L613.8,541.2 L610.0,542.5 L606.2,545.0 L602.5,548.8 L600.0,551.2 L595.0,552.5 L591.2,553.8 L587.5,557.5 L585.0,561.2 L581.2,563.8 L577.5,566.2 L572.5,570.0 L567.5,573.8 L563.8,576.2 L561.2,581.2 L560.0,586.2 L558.8,591.2 L559.4,597.5 L561.2,606.2 L563.1,612.5 L565.0,620.0 M623.8,513.8 L622.5,507.5 L626.2,502.5 L628.8,500.0 M615.0,522.5 L620.0,523.8 L623.8,523.8 M612.5,531.2 L618.8,532.5 L615.0,537.5 M613.8,507.5 L617.5,510.0 L620.0,512.5 M468.2,602.5 L466.7,602.0 L465.3,600.8 L463.5,600.8 L462.0,600.2 L459.9,599.4 L457.8,599.3 L455.9,599.6 L454.0,599.7 L452.9,598.2 L451.0,598.3 L449.6,597.0 L447.4,597.3 L445.3,597.1 L443.0,596.5 L442.2,595.0 L441.2,593.7 L439.5,593.2 L437.9,592.7 L437.1,591.0 L435.0,590.3 L432.9,590.0 L430.5,590.6 L428.9,589.5 L427.4,588.1 L425.6,587.5 L424.0,586.4 L422.0,585.7 L420.2,585.7 L418.3,585.7 L416.4,585.9 L414.6,586.3 L412.8,585.5 L411.2,586.1 L409.4,585.8 L408.0,587.2 L406.0,586.6 L404.5,587.3 L402.7,587.4 L401.1,588.1 L399.6,588.8 L397.8,590.0 L396.5,591.7 L394.6,592.9 L392.6,592.7 L390.8,593.6 L388.9,593.6 L387.0,593.6 L385.3,593.8 L383.6,593.6 L382.0,594.5 L380.3,594.9 L378.7,595.7 L376.9,595.9 L375.4,596.7 L373.6,596.9 L372.5,598.6 L371.1,599.2 L369.3,600.2 L367.3,601.1 L365.6,602.4 L364.8,604.4 L363.5,606.0 L361.9,607.5 L361.9,609.2 L360.7,610.7 L361.3,612.5 L360.4,614.6 L361.2,616.7 L360.5,618.8 L360.8,620.9 L361.0,623.0 L361.5,625.1 L363.2,627.9 L361.4,629.0 L360.1,630.5 L359.2,632.2 L358.3,633.8 L356.8,634.8 L356.0,636.4 L354.1,637.9 L353.4,640.1 L351.8,641.4 L352.2,643.6 L350.6,645.0 L350.8,646.8 L349.6,648.2 L348.9,649.9 L349.2,651.9 L348.4,653.7 L348.9,655.7 L348.9,657.7 L347.3,659.1 L347.4,661.0 L347.3,662.9 L346.0,664.4 L345.2,666.0 L345.7,668.0 L344.4,669.3 L344.1,671.0 L343.9,672.6 L343.7,674.4 L343.6,676.3 L343.1,678.1 L342.6,680.0 M362.6,627.5 L357.0,625.0 L349.5,621.9 L343.2,618.8 L339.5,613.8 L338.2,607.5 L337.0,601.2 L335.8,596.2 L333.2,585.0 L330.8,572.5 L324.5,560.0 M335.8,596.2 L329.5,594.4 L324.5,597.5 L323.2,601.2 L322.0,606.2 L317.0,608.1 L314.5,608.8 M317.0,612.5 L318.2,622.5 L319.5,627.5 L323.2,628.8 M325.8,638.8 L334.5,635.0 L342.0,633.8 L344.5,630.0 L345.8,622.5 L342.0,620.0 L339.5,615.0 M327.0,640.0 L325.8,647.5 L319.5,651.2 L317.0,657.5 L315.8,660.0 M315.8,662.5 L322.0,667.5 L330.8,672.5 L337.0,673.8 L342.0,676.2 L343.2,680.0 M330.8,680.0 L337.0,672.5 M353.2,635.0 L357.0,633.8 L358.2,636.2 L354.5,640.0 M455.8,587.5 L457.3,589.2 L458.2,591.3 L460.1,592.1 L461.7,593.0 L463.6,594.2 L466.1,594.6 L466.9,596.4 L467.7,597.4 L468.2,599.3 L467.3,600.8 L467.0,602.5 M457.0,597.5 L458.5,598.7 L460.3,598.5 L461.8,599.0 L463.5,599.8 L464.1,601.9 L466.1,602.9 L468.2,603.8 M347.0,660.0 L344.5,668.8 L342.6,672.5 L342.6,678.8 L344.5,687.5 L345.1,692.5 L347.0,700.0 L349.5,706.2 L352.0,711.2 L353.2,716.2 L354.5,722.5 L357.0,728.8 L359.5,731.2 L364.5,732.5 L368.2,735.0 L370.8,737.5 L373.2,741.2 L375.8,743.1 L382.0,742.5 L389.5,741.2 L397.0,740.6 L404.5,740.0 L409.5,741.2 L412.0,743.8 L415.8,742.5 L417.0,740.0 L422.0,736.2 L425.8,734.4 L429.5,730.0 L430.8,726.2 L432.0,720.0 L434.5,713.8 L437.0,711.2 L442.0,709.4 L449.5,708.8 L457.0,707.5 L464.5,707.2 L469.5,708.8 L472.0,711.2 M472.0,712.5 L470.8,716.2 L468.2,720.0 L462.0,723.8 L453.2,727.5 L444.5,731.2 M472.0,727.5 L469.5,735.0 L468.2,740.0 L465.8,747.5 L463.2,755.0 L462.0,758.8 M434.5,717.5 L438.2,720.0 L444.5,731.2 L442.0,745.0 L440.8,757.5 M419.5,755.0 L444.5,757.5 M315.8,663.8 L324.5,666.2 L328.2,671.2 L334.5,672.5 L338.2,672.5 L342.0,676.2 L343.2,672.5 M315.8,682.5 L322.0,681.2 L323.2,686.2 L330.8,687.5 L332.0,692.5 L329.5,697.5 L328.2,700.0 L333.2,698.8 L338.2,697.5 L340.8,701.2 L343.2,707.5 L340.8,712.5 L340.8,720.0 L342.0,725.0 L347.0,730.0 L349.5,733.8 L353.2,737.5 L355.8,742.5 L354.5,747.5 L362.0,747.5 L364.5,753.8 L377.0,757.5 L379.5,760.0 M315.8,703.8 L322.0,707.5 L325.8,711.2 L324.5,715.0 L328.2,718.8 L334.5,717.5 L335.8,713.8 L330.8,710.0 M315.8,728.8 L322.0,735.0 L329.5,733.8 L333.2,732.5 L337.0,735.0 L343.2,733.8 L347.0,730.0 M322.0,735.0 L320.8,745.0 L323.2,750.0 L318.2,755.0 L315.8,758.8 M374.5,743.1 L379.5,747.5 L382.0,752.5 L383.2,756.2 L379.5,760.0 M379.5,758.8 L387.0,752.5 L392.0,748.8 L394.5,753.8 L397.0,756.2 L407.0,752.5 L410.8,750.0 L415.8,752.5 L419.5,755.0 L420.8,760.0 M404.5,740.0 L407.0,747.5 L410.8,750.0 M409.5,751.2 L412.0,760.0 M444.5,758.8 L449.5,755.0 L454.5,752.5 L459.5,747.5 L460.8,752.5 L457.0,756.2 L454.5,758.8 M543.8,640.0 L546.2,643.8 L550.0,647.5 L550.0,652.5 L552.5,657.5 L556.2,661.2 L557.5,666.2 L560.0,668.1 L565.0,668.1 L567.5,666.2 L568.8,662.5 L570.6,657.5 L571.9,652.5 L572.5,646.2 L573.1,640.0 M450.0,709.4 L456.2,708.1 L465.0,707.5 L472.5,709.4 L478.8,710.0 L481.2,715.0 L480.0,718.8 L475.0,723.8 L471.2,727.5 L470.0,732.5 L468.8,737.5 L467.5,742.5 L465.0,748.8 L462.5,755.0 L460.0,760.0 M450.0,728.8 L456.2,726.2 L465.0,722.5 L470.0,717.5 L471.9,711.2 M452.5,752.5 L457.5,748.8 L461.2,747.5 L460.0,752.5 L457.5,756.2 M560.0,642.5 L563.8,641.2 L565.0,645.0 L562.5,646.9 L560.0,644.4Z M590.0,677.5 L593.8,670.0 L595.6,671.2 L597.5,677.5 L600.0,682.5 L601.9,687.5 L598.8,688.1 L596.9,685.0 L593.8,681.2Z M528.8,713.8 L531.2,711.2 L533.8,711.2 L536.2,713.8 L535.0,716.2 L531.2,716.9 L528.8,715.0Z M506.2,708.8 L508.1,708.2 L509.8,708.0 L510.7,706.1 L512.5,705.0 L514.1,704.1 L515.3,702.8 L515.9,700.9 L517.4,699.7 L518.8,698.9 L520.4,698.4 L521.8,697.7 L523.3,697.1 L525.0,696.9 L526.8,697.1 L528.4,696.7 L530.0,696.1 L531.6,695.4 L533.4,695.9 L534.9,694.6 L536.8,694.1 L538.7,694.1 L540.7,694.7 L542.5,694.3 L544.4,694.0 L546.3,694.1 L548.1,694.9 L550.0,695.0 L551.8,695.7 L553.8,695.4 L555.7,695.2 L557.6,695.4 L559.4,696.0 L561.2,696.8 L563.1,697.4 L565.0,697.6 L566.9,697.5 L568.1,699.3 L570.0,699.3 L571.8,700.4 L574.1,700.9 L575.3,702.2 L576.5,703.5 L577.4,705.1 L579.0,706.2 L580.9,705.9 L582.6,706.7 L584.3,707.2 L586.1,707.5 L587.8,708.1 L588.9,709.9 L590.3,710.9 L592.5,710.5 L594.0,711.3 L595.3,712.6 L597.0,713.2 L598.6,713.9 L599.7,715.4 L601.9,715.9 L603.6,717.2 L604.7,719.3 L606.6,719.7 L608.2,720.6 L610.0,721.2 M511.2,710.6 L512.9,710.1 L514.1,708.5 L516.2,708.9 L517.3,706.9 L519.3,706.5 L521.2,706.2 L523.3,706.1 L525.2,705.6 L526.4,703.7 L528.2,703.3 L529.7,702.5 L531.4,701.8 L533.6,702.0 L535.0,700.0 L537.1,700.7 L539.2,700.2 L541.4,699.9 L543.4,700.7 L545.5,701.1 L547.5,701.9 L548.6,703.2 L547.1,704.1 L545.4,704.5 L544.0,704.9 L545.1,707.1 L546.7,707.9 L548.4,708.2 L549.9,709.3 L552.1,708.6 L554.2,708.5 L556.5,708.8 L558.0,709.8 L559.7,710.3 L561.3,711.1 L562.7,712.6 L564.4,713.2 L566.2,713.9 L567.9,715.1 L569.8,716.1 L571.9,715.7 L573.2,717.1 L575.1,717.0 L577.1,717.6 L579.2,717.8 L581.3,717.8 L583.2,717.8 L585.4,718.6 L585.6,720.5 L586.1,722.4 L587.1,724.2 L589.2,724.5 L589.9,726.3 L591.6,727.2 L592.5,728.8 L594.1,729.6 L596.0,730.0 L597.6,730.7 L599.2,731.6 L601.0,731.5 L602.2,732.8 L603.4,734.1 L605.6,735.4 L603.4,736.6 L602.4,738.3 L601.0,739.8 L599.1,739.5 L597.5,740.0 L599.1,740.9 L600.1,742.9 L601.7,742.4 L603.4,742.5 L605.1,742.5 L606.7,742.3 L608.4,741.7 L610.0,741.2 M602.5,646.2 L603.1,647.8 L605.0,648.4 L605.7,649.9 L606.5,651.2 L607.5,652.5 L607.3,654.6 L606.2,656.6 L606.3,658.7 L605.0,657.5 M600.0,716.2 L601.5,717.5 L603.4,717.9 L604.7,719.2 L606.8,719.9 L608.0,721.7 L610.0,722.6 L611.7,723.2 L613.3,724.3 L615.1,724.5 L616.6,725.6 L618.3,725.9 L619.9,726.6 L622.0,726.4 L623.8,727.5 L623.6,729.4 L623.9,730.7 L625.8,732.0 L627.8,732.6 L629.9,732.6 L631.4,733.4 L632.9,734.2 L634.7,734.3 L636.2,735.0 L637.9,736.6 L639.9,737.7 L642.7,738.9 L641.2,741.1 L639.1,741.4 L637.0,741.7 L635.1,742.9 L633.4,743.1 L631.6,742.7 L630.1,742.9 L628.4,742.4 L626.7,742.3 L625.0,742.0 L623.0,741.1 L620.8,741.8 L618.8,741.5 L616.7,741.8 L614.6,741.7 L612.5,741.1 L610.4,740.8 L608.3,741.2 L606.3,740.3 L604.1,740.8 L602.1,740.4 L600.0,740.0 M600.0,732.5 L601.6,732.9 L603.3,733.2 L605.1,733.1 L604.8,735.9 L603.3,737.1 L601.6,737.7 L600.0,738.8 M667.5,760.0 L666.6,757.9 L665.1,756.2 L663.8,754.3 L663.0,752.3 L661.2,751.1 L660.3,749.4 L659.8,748.0 L658.4,747.1 L656.9,746.2 L655.4,745.5 L653.9,744.8 L652.4,743.2 L654.3,743.8 L655.8,742.6 L657.5,743.1 L659.4,742.3 L661.2,742.9 L663.1,742.8 L665.0,741.9 L666.9,742.4 L668.7,742.1 L670.7,742.6 L672.5,741.6 L674.4,741.6 L676.2,741.2 L678.1,740.8 L680.0,741.3 L681.9,741.4 L683.8,740.8 L685.6,741.7 L687.6,740.9 L689.0,742.2 L690.8,742.3 L692.4,743.0 L694.2,742.8 L695.7,743.7 L697.4,743.8 L698.6,745.2 L700.1,746.2 L701.2,747.5 L702.7,748.6 L703.8,749.8 L705.4,750.5 L707.1,749.5 L708.5,750.3 L710.5,751.5 L712.7,752.2 L714.2,753.7 L715.6,755.3 L717.5,756.3 L718.7,758.1 L720.0,760.0 M675.0,743.8 L676.2,750.0 L675.0,755.0 L675.0,760.0 M649.4,726.2 L652.5,723.8 L657.5,723.1 L658.1,726.2 L653.8,728.8 L650.0,728.8Z M702.5,750.0 L707.5,749.4 L708.8,751.2 L703.8,751.9Z M430.0,590.0 L431.9,590.6 L433.9,590.8 L435.4,592.5 L437.3,592.8 L439.3,593.5 L441.0,594.8 L442.3,596.5 L443.9,597.9 L445.8,598.8 L447.4,599.7 L449.1,599.4 L450.8,599.2 L452.6,599.3 L454.2,598.6 L455.7,597.5 L457.9,596.9 L459.3,598.9 L461.5,599.8 L462.1,601.6 L464.2,602.3 L465.5,605.5 L466.5,604.0 L467.2,602.6 L466.2,600.8 L466.6,598.5 L464.5,597.2 L463.3,594.8 L464.9,592.4 L465.9,590.9 L467.2,589.5 L469.4,589.1 L471.2,588.3 L473.3,588.5 L475.4,587.5 L477.8,587.6 L479.4,589.0 L481.2,590.3 L483.1,589.6 L485.0,590.1 L486.5,589.1 L488.5,589.7 L489.9,589.3 L491.6,589.6 L493.4,589.0 L495.1,588.8 L496.6,590.2 L498.4,590.1 L500.1,590.4 L501.7,591.2 L503.2,592.1 L504.8,592.8 L506.9,593.7 L509.0,594.8 L510.4,596.6 L511.8,598.5 L511.3,600.6 L512.6,602.5 L514.1,601.1 L515.8,601.6 L517.8,601.8 L519.2,600.5 L521.1,600.2 L522.4,598.3 L524.4,598.7 L526.1,598.6 L528.3,598.2 L530.3,599.1 L530.8,600.9 L532.7,601.2 L533.6,602.6 L534.5,604.5 L536.0,606.0 L537.2,607.7 L538.6,609.0 L538.7,611.1 L540.5,612.3 L541.0,614.1 L541.7,615.8 L542.2,617.4 L542.7,619.7 L542.2,621.8 L541.4,623.8 L541.3,625.5 L539.9,626.9 L540.1,628.7 L541.2,630.1 L542.6,631.2 L542.6,633.3 L543.2,635.1 L543.6,636.8 L545.2,638.2 L544.8,640.0 L545.0,641.8 L545.3,643.5 L546.2,645.0 M558.8,590.0 L558.8,596.2 L560.0,602.5 L562.5,610.0 L565.0,617.5 L567.5,625.0 L568.8,632.5 L570.0,640.0 L571.2,645.0 M455.0,587.5 L458.8,586.2 L461.2,588.1 L458.8,589.4 L455.0,588.8Z M382.0,315.8 L387.0,317.0 L390.8,319.5 L393.2,324.5 L394.5,328.2 L399.5,330.1 L402.6,330.5 M342.0,307.0 L347.0,308.9 L352.0,309.5 L358.2,308.9 L358.9,313.2 M402.0,343.2 L400.8,349.5 L401.4,354.5 L399.5,359.5 L397.0,364.5 L392.0,368.2 L394.5,372.0 M459.5,317.0 L462.0,315.8 L465.8,317.0 L469.5,319.5 L472.0,322.0 L470.8,327.0 L467.0,329.5 L463.2,328.2 L460.8,325.8 L459.5,322.0Z M448.5,255.3 L452.9,256.8 L455.8,258.2 L456.5,265.5 L456.9,272.8 L456.5,280.1 L456.9,287.4 L458.0,292.5 L458.7,296.9 L456.5,300.5 L454.4,303.4 L452.2,306.3 L450.7,304.1 L451.4,299.8 L453.6,296.1 L454.4,292.5 L452.2,290.3 L451.4,286.6 L450.0,282.3 L447.8,281.5 L447.1,278.6 L445.6,275.0 L444.2,270.6 L444.2,267.7 L446.3,267.3 L444.2,265.5 L443.4,262.6 L445.6,259.0Z M439.1,247.3 L440.5,248.1 L442.0,248.7 L443.1,250.4 L444.0,252.7 L443.2,254.1 L442.1,255.6 L439.9,255.8 L437.6,254.7 L435.6,254.8 L433.7,255.3 L431.2,255.5 L432.0,257.3 L433.3,259.2 L431.4,259.5 L429.9,260.0 L427.5,261.8 L428.2,264.5 L429.8,265.8 L432.0,266.1 L432.3,267.8 L433.7,269.4 L432.3,270.9 L431.6,272.7 L431.3,275.1 L430.0,277.2 L430.2,279.4 L430.7,281.9 L432.4,282.8 L434.0,283.7 L435.4,284.6 L436.7,285.5 L438.4,285.7 L439.3,286.6 L439.1,288.8 L438.9,290.9 L437.7,292.3 L437.4,294.0 L436.1,296.1 L436.2,298.3 L436.2,300.0 L436.4,301.7 L436.9,303.3 L438.2,304.4 L440.1,305.1 L441.8,302.6 L440.3,300.6 L441.0,298.1 L440.1,296.4 L439.2,294.7 L439.7,292.9 L439.6,291.0 L440.0,288.8 L440.1,287.0 L439.8,284.9 L438.6,283.5 L436.9,282.3 L435.5,280.8 L435.0,278.5 L433.6,276.4 L434.3,274.8 L434.7,273.1 L434.8,271.4 L436.3,269.8 L436.6,267.8 L436.3,265.8 L435.6,264.3 L437.2,262.8 L439.1,262.4 L440.9,261.8 L442.3,262.1 L441.3,260.2 L440.4,258.3 L440.3,256.2 L439.5,254.3 L438.4,252.5 L437.0,251.0 L438.0,249.1 L439.1,247.3 M454.4,256.8 L457.3,252.4 L458.7,253.1 L455.8,257.5 M588.3,425.9 L590.2,423.1 L594.8,419.4 L601.4,418.0 L608.4,417.0 L610.3,416.1 L614.1,415.2 L617.8,415.2 L622.5,413.8 L625.3,412.8 L628.1,410.5 L630.9,407.2 L634.7,404.8 L639.4,403.9 L645.0,403.0 M588.3,425.9 L592.0,427.8 L595.8,427.3 L600.5,425.9 L604.7,425.9 L609.4,428.3 L615.0,427.8 L618.8,425.5 L623.0,423.6 L622.5,419.4 L624.4,418.0 M593.9,424.5 L598.6,422.2 L606.1,422.7 L616.9,423.1 L618.8,420.8 L620.6,417.0 M548.0,443.4 L551.1,443.4 L553.7,440.4 L555.9,440.4 L559.4,441.3 L561.1,439.9 L567.3,437.8 L569.9,434.7 L574.3,433.4 L578.6,434.3 L581.3,434.7 L583.0,432.9 L587.4,432.1 L591.8,431.8 L595.3,432.1 L596.1,430.8 L595.7,429.0 L594.4,427.3 M551.1,443.4 L554.1,446.5 L558.9,449.1 L562.4,448.5 L567.3,448.3 L570.8,446.5 L575.1,444.8 L579.5,443.4 L584.3,441.3 L587.4,439.9 L590.9,438.2 L594.4,435.6 L596.1,433.4 L596.1,430.8 M555.0,443.0 L560.3,445.2 L566.4,442.6 L572.5,439.5 L579.5,438.2 L584.8,437.8 L589.6,435.6 L594.4,433.8 M561.1,432.5 L562.4,427.3 L564.6,422.0 M554.1,436.9 L556.8,434.7 M557.2,433.4 L558.9,432.1 L560.7,433.4 L561.1,436.0 L559.4,436.9 L557.2,436.0Z" fill="none" stroke="#000" stroke-width="1.3" stroke-linejoin="round"/>
<path d="M316.5,83.8 L317.9,85.0 L319.3,86.2 L320.7,87.4 L322.1,88.5 L323.5,89.7 L324.9,90.9 L326.3,92.1 L327.7,93.2 L329.1,94.4 L330.6,95.5 L332.0,96.6 L333.4,97.8 L334.9,98.9 L336.3,100.0 L337.7,101.1 L339.2,102.3 L340.6,103.4 L342.1,104.5 L343.5,105.6 L345.0,106.6 L346.4,107.7 L347.9,108.8 L349.4,109.9 L350.8,110.9 L352.3,112.0 L353.8,113.0 L355.3,114.1 L356.7,115.1 L358.2,116.1 L359.7,117.2 L361.2,118.2 L362.7,119.2 L364.2,120.2 L365.7,121.2 L367.2,122.2 L368.7,123.2 L370.2,124.2 L371.7,125.2 L373.2,126.1 L374.7,127.1 L376.2,128.0 L377.7,129.0 L379.3,129.9 L380.8,130.9 L382.3,131.8 L383.8,132.8 L385.4,133.7 L386.9,134.6 L388.4,135.5 L390.0,136.4 L391.5,137.3 L393.1,138.2 L394.6,139.1 L396.2,140.0 L397.7,140.8 L399.3,141.7 L400.8,142.6 L402.4,143.4 L403.9,144.3 L405.5,145.1 L407.1,146.0 L408.6,146.8 L410.2,147.6 L411.8,148.4 L413.3,149.3 L414.9,150.1 L416.5,150.9 L418.1,151.7 L419.6,152.5 L421.2,153.2 L422.8,154.0 L424.4,154.8 L426.0,155.6 L427.6,156.3 L429.2,157.1 L430.8,157.8 L432.4,158.6 L434.0,159.3 L435.6,160.0 L437.2,160.7 L438.8,161.5 L440.4,162.2 L442.0,162.9 L443.6,163.6 L445.2,164.3 L446.8,165.0 L448.4,165.6 L450.1,166.3 L451.7,167.0 L453.3,167.7 L454.9,168.3 L456.5,169.0 L458.2,169.6 L459.8,170.3 L461.4,170.9 L463.1,171.5 L464.7,172.1 L466.3,172.8 L468.0,173.4 L469.6,174.0 L471.2,174.6 L472.9,175.2 L474.5,175.7 L476.1,176.3 L477.8,176.9 L479.4,177.5 L481.1,178.0 L482.7,178.6 L484.4,179.1 L486.0,179.7 L487.7,180.2 L489.3,180.8 L491.0,181.3 L492.7,181.8 L494.3,182.3 L496.0,182.8 L497.6,183.3 L499.3,183.8 L501.0,184.3 L502.6,184.8 M344.8,106.5 L342.6,109.5 L340.4,112.5 L338.1,115.5 L335.9,118.5 L333.7,121.5 L331.5,124.5 L329.3,127.5 L327.1,130.5 L325.0,133.5 L322.8,136.5 L320.6,139.5 L318.4,142.5 L316.2,145.6 L314.1,148.6 L311.9,151.6 L309.8,154.6 L307.6,157.7 L305.5,160.7 L303.3,163.7 L301.2,166.8 L299.0,169.8 L296.9,172.8 L294.8,175.9 L292.7,178.9 M404.9,144.8 L403.2,147.9 L401.5,151.0 L399.9,154.1 L398.2,157.2 L396.5,160.3 L394.9,163.4 L393.2,166.5 L391.6,169.6 L389.9,172.7 L388.3,175.8 L386.7,178.9 L385.0,182.1 L383.4,185.2 L381.8,188.3 L380.1,191.4 L378.5,194.5 L376.9,197.6 L375.3,200.7 L373.7,203.8 L372.1,206.9 L370.5,210.1 L368.9,213.2 L367.3,216.3 L365.7,219.4 L364.1,222.5 L362.5,225.6 L360.9,228.8 L359.4,231.9 L357.8,235.0 L356.2,238.1 L354.6,241.3 L353.1,244.4 L351.5,247.5 L350.0,250.6 L348.4,253.8 L346.9,256.9 L345.3,260.0 L343.8,263.2 L342.2,266.3 L340.7,269.4 L339.2,272.6 L337.6,275.7 L336.1,278.8 L334.6,282.0 M455.5,168.6 L454.2,172.0 L452.8,175.3 L451.5,178.7 L450.1,182.1 L448.8,185.5 L447.4,188.9 L446.1,192.3 L444.8,195.6 L443.4,199.0 L442.1,202.4 L440.8,205.8 L439.5,209.2 L438.1,212.6 L436.8,215.9 L435.5,219.3 L434.2,222.7 L434.9,223.0 L433.8,226.3 L432.7,229.6 L431.6,232.9 L430.5,236.2 L429.4,239.4 L428.3,242.7 L427.2,246.0 L426.2,249.3 L425.1,252.6 L424.0,255.9 L422.9,259.2 L421.9,262.5 L420.8,265.8 L419.8,269.1 L418.7,272.4 L417.7,275.7 L416.6,279.0 L415.6,282.3 L414.6,285.6 L413.5,288.9 L412.5,292.2 L411.5,295.5 L410.5,298.8 L409.5,302.1 L408.5,305.4 L407.5,308.7 L406.5,312.0 M215.1,208.4 L217.1,209.9 L219.0,211.3 L220.9,212.8 L222.8,214.2 L224.7,215.6 L226.7,217.0 L228.6,218.5 L230.5,219.9 L232.5,221.2 L234.4,222.6 L236.4,224.0 L238.3,225.4 L240.3,226.7 L242.2,228.1 L244.2,229.5 L246.2,230.8 L248.1,232.1 L250.1,233.5 L252.1,234.8 L254.0,236.1 L256.0,237.4 L258.0,238.7 L260.0,240.0 L261.9,241.2 L263.9,242.5 L265.9,243.8 L267.9,245.0 L269.9,246.3 L271.9,247.5 L273.9,248.7 L275.9,250.0 L277.9,251.2 L279.9,252.4 L281.9,253.6 L283.9,254.8 L286.0,256.0 L288.0,257.2 L290.0,258.3 L292.0,259.5 L294.0,260.6 L296.1,261.8 L298.1,262.9 L300.1,264.1 L302.2,265.2 L304.2,266.3 L306.2,267.4 L308.3,268.5 L310.3,269.6 L312.4,270.7 L314.4,271.8 L316.4,272.9 L318.5,273.9 L320.6,275.0 L322.6,276.0 L324.7,277.1 L326.7,278.1 L328.8,279.1 L330.8,280.2 L332.9,281.2 L335.0,282.2 L337.0,283.2 L339.1,284.2 L341.2,285.2 L343.3,286.1 L345.3,287.1 L347.4,288.1 L349.5,289.0 L351.6,290.0 L353.7,290.9 L355.8,291.8 L357.8,292.7 L359.9,293.7 L362.0,294.6 L364.1,295.5 L366.2,296.4 L368.3,297.3 L370.4,298.1 L372.5,299.0 L374.6,299.9 L376.7,300.7 L378.8,301.6 L380.9,302.4 L383.0,303.3 L385.1,304.1 L387.2,304.9 L389.4,305.7 L391.5,306.5 L393.6,307.3 L395.7,308.1 L397.8,308.9 L399.9,309.7 L402.1,310.5 L404.2,311.2 L406.3,312.0 L408.4,312.7 L410.5,313.5 L412.7,314.2 L414.8,314.9 L416.9,315.7 L419.1,316.4 L421.2,317.1 L423.3,317.8 L425.5,318.5 L427.6,319.2 L429.7,319.8 L431.9,320.5 L434.0,321.2 L436.2,321.8 L438.3,322.5 L440.4,323.1 L442.6,323.7 L444.7,324.4 L446.9,325.0 L449.0,325.6 L451.2,326.2 L453.3,326.8 L455.5,327.4 L457.6,328.0 L459.8,328.6 L461.1,323.6 M473.3,278.8 L475.9,277.2 L478.5,275.5 L481.2,273.8 L483.7,272.1 L486.3,270.4 L488.9,268.7 L491.4,267.0 L494.0,265.3 L496.5,263.6 L499.0,261.8 L501.5,260.1 L504.0,258.3 L506.5,256.5 L509.0,254.8 L511.4,253.0 L513.8,251.2 L516.3,249.4 L518.7,247.5 L521.0,245.7 L523.4,243.9 L525.8,242.0 L528.1,240.2 L530.5,238.3 L532.8,236.4 M459.8,328.6 L460.7,325.2 L461.6,321.9 L462.4,318.6 L463.3,315.3 L464.2,312.0 L465.1,308.7 L466.0,305.4 L466.9,302.0 L467.8,298.7 L468.7,295.4 L469.6,292.1 L470.5,288.8 L471.5,285.4 L472.4,282.1 L473.3,278.8 M459.8,328.6 L461.6,331.2 L463.5,333.7 L465.7,334.5 L468.0,335.3 L470.2,336.1 L472.3,337.3 L474.3,338.5 L476.3,340.2 L478.4,341.8 L480.5,343.4 L482.5,344.6 L484.5,345.7 L486.6,346.9 L488.6,348.0 L491.9,348.0 L495.1,348.0 L497.6,349.2 L500.1,350.4 L502.6,351.6 L505.1,352.7 M384.1,303.7 L382.8,307.0 L381.6,310.2 L380.3,313.5 L379.0,316.8 L377.7,320.0 L376.5,323.3 L375.2,326.6 L373.9,329.9 L372.7,333.1 L371.4,336.4 L370.2,339.7 L368.9,343.0 L367.4,347.0 L365.8,351.0 L364.3,355.1 L363.1,358.3 L361.9,361.5 L360.7,364.7 L359.5,367.9 L358.3,371.2 L357.1,374.4 L355.9,377.6 L354.7,380.8 L353.5,384.1 L352.3,387.3 L351.1,390.5 L349.9,393.8 L348.7,397.0 L347.6,400.2 L346.4,403.5 L345.2,406.7 L347.6,407.6 L350.1,408.5 L352.5,409.3 L355.0,410.2 L357.4,411.1 L359.9,411.9 L362.3,412.7 L364.8,413.6 L363.7,416.8 L362.6,420.1 L361.5,423.3 L360.4,426.6 L359.4,429.8 L358.3,433.1 L357.2,436.4 L356.2,439.6 L355.1,442.9 L354.0,446.2 L353.0,449.5 L351.9,452.7 L350.9,456.0 L349.8,459.3 L348.8,462.6 L347.7,465.8 M337.7,462.5 L336.4,465.7 L335.1,468.9 L334.0,472.2 L332.9,475.5 L331.8,478.8 L330.7,482.1 L329.6,485.3 L328.5,488.6 L327.4,491.9 L326.3,495.2 L325.2,498.5 L324.2,501.8 L323.1,505.1 L322.0,508.4 L320.9,511.7 L319.8,515.0 L318.8,518.3 L317.7,521.6 L316.6,524.9 L315.6,528.2 M368.9,343.0 L371.2,343.8 L373.5,344.7 L375.8,345.6 L378.2,346.4 L380.5,347.3 L382.8,348.1 L385.1,348.9 L387.4,349.8 L389.8,350.6 L392.1,351.4 L394.4,352.2 L396.7,353.0 L399.1,353.7 L401.4,354.5 L403.7,355.3 L406.0,356.0 L408.4,356.8 L410.7,357.5 L413.0,358.3 L415.4,359.0 L417.7,359.7 L420.0,360.4 L422.4,361.1 L424.7,361.8 L427.1,362.5 L429.4,363.2 L431.8,363.8 L434.1,364.5 L436.4,365.2 M301.6,328.2 L303.9,329.3 L306.2,330.4 L308.5,331.5 L310.8,332.6 L313.1,333.6 L315.5,334.7 L317.8,335.7 L320.1,336.8 L322.4,337.8 L324.7,338.8 L327.0,339.9 L329.3,340.9 L331.7,341.9 L334.0,342.9 L336.3,343.9 L338.6,344.8 L341.0,345.8 L343.3,346.8 L345.6,347.7 L348.0,348.7 L350.3,349.6 L352.6,350.5 L355.0,351.5 L357.3,352.4 L359.6,353.3 L362.0,354.2 L364.3,355.1 M354.7,380.8 L357.1,381.7 L359.4,382.6 L361.8,383.5 L364.2,384.3 L366.6,385.2 L369.0,386.0 L371.4,386.8 L373.8,387.7 L376.2,388.5 L378.6,389.3 L381.0,390.1 L383.4,390.9 L385.8,391.7 L388.2,392.4 L390.6,393.2 L393.0,394.0 L395.4,394.7 L397.8,395.5 L400.2,396.2 L402.6,396.9 L405.0,397.6 L407.4,398.4 M407.4,398.4 L409.3,399.1 L410.4,400.7 L411.6,402.3 L412.4,404.3 L414.6,404.2 L416.2,404.3 L417.8,403.2 L419.3,403.4 L420.8,404.5 L421.2,406.1 L422.6,406.8 L423.9,407.6 L424.8,408.8 L425.2,410.4 M296.5,387.4 L299.0,388.4 L301.4,389.5 L303.8,390.5 L306.2,391.5 L308.6,392.5 L311.1,393.5 L313.5,394.5 L315.9,395.5 L318.4,396.5 L320.8,397.5 L323.2,398.4 L325.7,399.4 L328.1,400.3 L330.5,401.3 L333.0,402.2 L335.4,403.1 L337.9,404.0 L340.3,404.9 L342.8,405.8 L345.2,406.7 L347.6,407.6 L350.1,408.5 L352.5,409.3 L355.0,410.2 L357.4,411.1 L359.9,411.9 L362.3,412.7 L364.8,413.6 M360.4,426.6 L362.9,427.4 L365.4,428.2 L367.9,429.0 L370.4,429.8 L372.9,430.6 L375.4,431.4 L377.9,432.2 L380.4,433.0 L382.9,433.7 L385.5,434.5 L388.0,435.2 L390.5,436.0 L393.0,436.7 L395.5,437.4 L398.0,438.1 L400.5,438.9 L403.0,439.6 L405.5,440.2 L408.0,440.9 L410.5,441.6 L413.1,442.3 L415.6,442.9 L418.1,443.6 L420.6,444.2 L423.1,444.9 L425.6,445.5 L428.1,446.1 M337.7,462.5 L340.3,463.4 L343.0,464.3 L345.7,465.2 L348.3,466.0 L351.0,466.9 L353.6,467.7 L356.3,468.5 L359.0,469.4 L361.6,470.2 L364.3,471.0 L366.9,471.8 L369.6,472.6 L372.3,473.4 L374.9,474.1 L377.6,474.9 L380.3,475.7 L382.9,476.4 L385.6,477.2 L388.3,477.9 L391.0,478.6 L393.6,479.3 L396.3,480.1 L399.0,480.8 L401.7,481.5 L404.3,482.1 L407.0,482.8 L409.7,483.5 L412.4,484.1 L415.0,484.8 L417.7,485.4 L420.4,486.1 L423.1,486.7 L425.7,487.3 M337.7,462.5 L336.6,465.8 L335.5,469.1 L338.1,470.0 L340.8,470.8 L343.4,471.7 L346.0,472.5 L348.7,473.4 L351.3,474.2 L354.0,475.0 L356.6,475.8 L359.2,476.6 L361.9,477.4 L364.5,478.2 L367.2,479.0 L366.1,482.7 L365.0,486.3 L364.0,490.0 L362.9,493.6 L361.8,497.3 L360.8,500.9 L359.7,504.6 M359.7,504.6 L361.2,505.5 L362.9,506.2 L364.1,507.6 L366.1,508.0 L366.7,509.9 L367.9,510.9 L369.4,511.5 L371.4,511.3 L372.8,512.1 L373.6,513.7 L374.8,514.7 L375.8,515.8 L376.8,517.0 L378.7,516.6 L380.2,517.7 L381.9,518.5 L383.8,519.2 L385.5,520.1 L387.0,521.0 L389.0,521.7 L390.4,523.4 L391.8,525.1 L393.4,525.3 L394.9,525.6 L396.5,524.8 L397.9,524.2 L399.4,524.9 L400.9,525.9 L402.3,525.3 L404.1,524.6 L405.7,524.5 L407.0,525.3 L407.8,527.6 L409.3,528.4 L410.3,529.5 L410.8,529.6 L412.7,530.2 L414.0,528.9 L415.6,528.5 L417.1,529.6 L419.4,529.9 L421.0,531.3 L422.1,533.3 M422.1,533.3 L421.2,537.5 L420.2,541.8 L419.5,545.1 L418.8,548.5 L418.1,551.9 L417.4,555.2 M417.4,555.2 L418.6,556.4 L419.2,557.8 L418.5,559.6 L418.5,561.2 L420.3,562.3 L421.2,563.6 L420.5,565.4 L421.7,566.7 L420.8,569.2 L420.0,571.2 L419.7,573.3 L419.1,575.4 L418.8,576.7 L417.7,578.2 L415.7,579.5 L415.2,581.1 L415.4,582.7 L414.3,583.7 L414.2,585.3 L413.2,586.3 M425.7,487.3 L425.0,490.6 L424.2,493.9 L423.9,497.7 L423.6,501.5 L423.3,505.2 L423.0,509.0 L422.1,512.3 L421.3,515.6 L420.5,518.9 L419.7,522.2 L418.8,525.6 L418.0,528.9 L417.2,532.2 M425.7,487.3 L426.6,483.9 L427.4,480.4 L428.2,477.0 L429.1,473.5 L429.9,470.0 L430.7,466.6 L431.6,463.1 L432.4,459.7 M432.4,459.7 L432.0,458.2 L431.1,456.8 L431.9,454.9 L430.7,453.7 L431.2,452.2 L430.9,450.7 L431.2,449.2 L430.7,447.8 L429.1,445.2 L428.1,444.5 L427.9,443.0 L427.4,441.5 L426.8,440.0 L426.4,438.5 L425.9,437.1 L425.6,435.1 L426.7,433.1 L426.8,431.0 L426.6,428.9 L425.3,426.8 L425.8,424.7 L425.2,422.6 L425.0,420.5 L425.2,419.2 L425.4,417.6 L424.7,416.2 L424.2,414.8 L424.8,412.5 L425.2,410.4 M424.2,493.9 L427.0,494.6 L429.8,495.2 L432.6,495.8 L435.4,496.4 L438.2,497.0 L441.0,497.6 L443.8,498.2 L446.6,498.8 L449.4,499.4 L452.2,499.9 L455.0,500.5 L457.8,501.0 L460.6,501.6 L463.4,502.1 L466.2,502.6 L469.0,503.1 L471.8,503.6 L468.7,508.5 L468.3,509.8 L471.9,510.5 L475.5,511.1 M420.2,541.8 L423.2,542.4 L426.1,543.0 L429.0,543.6 L432.0,544.2 L434.9,544.8 L437.9,545.4 L440.8,546.0 L443.7,546.5 L446.7,547.1 L449.6,547.6 L452.5,548.2 M485.8,361.4 L484.2,362.3 L482.7,363.1 L481.2,364.3 L479.6,364.9 L478.4,365.1 L477.9,366.6 L477.3,368.0 L476.5,369.4 L476.0,370.9 L475.5,372.4 L475.7,374.2 L474.2,375.4 L472.5,376.2 L471.3,377.5 L469.5,378.1 L469.7,380.0 L468.9,381.6 L469.1,383.3 L468.4,384.9 L467.7,386.3 L467.6,387.9 L466.7,389.3 L469.3,391.2 L471.0,393.4 L471.9,394.5 L472.7,395.8 L473.7,397.0 L474.1,398.5 L475.4,400.0 L476.3,401.8 L477.2,403.6 L478.4,405.2 L478.9,407.1 L478.2,409.1 L478.3,411.0 L478.8,412.8 L479.5,414.5 L479.9,416.3 L479.9,418.1 L480.6,419.9 L480.7,421.7 L481.5,423.4 M481.5,423.4 L482.0,425.3 L483.1,427.1 L482.9,429.3 L484.3,430.9 L483.7,433.4 L482.9,434.9 L481.3,435.2 L480.1,436.6 L478.2,436.1 L477.1,437.8 L475.8,438.8 L475.7,439.8 L474.6,441.4 L472.9,442.5 L471.8,444.1 L470.9,445.8 L468.5,446.6 L467.2,448.2 L466.8,450.0 L465.9,451.6 L465.8,453.9 L467.3,455.5 L466.8,457.4 L468.0,459.0 L468.5,460.4 L469.6,461.5 L471.0,462.4 L470.8,464.3 L470.9,466.1 L472.5,466.9 L473.0,468.7 L474.7,469.4 L475.6,470.8 L475.9,472.7 L475.3,473.5 L476.6,475.8 L476.9,477.1 L477.3,478.4 L477.8,479.8 L477.0,481.4 L477.6,482.8 L477.5,484.3 L478.3,486.0 L479.3,487.4 L481.2,488.3 L481.2,490.2 L480.0,492.1 L480.9,494.3 L481.4,495.8 L482.5,497.3 L483.9,498.6 L482.1,500.1 L480.1,501.0 L480.3,503.6 L478.2,504.4 L477.9,506.3 L476.4,507.6 L476.6,509.7 L475.2,510.9 L475.0,512.8 L474.0,514.0 L471.8,514.2 L470.8,515.3 L469.5,517.3 L469.2,519.4 L468.5,521.5 L467.7,523.4 L466.2,524.5 L465.0,525.8 L465.0,527.9 L464.0,529.3 L462.8,530.6 L461.6,531.9 L460.0,532.2 L458.8,533.1 L459.0,535.1 L458.2,536.3 L457.7,537.9 L457.2,539.3 L456.3,540.4 L455.2,541.3 L453.8,542.2 L453.0,544.1 L452.1,546.0 L452.6,548.2 L453.6,549.7 L452.2,551.5 L452.0,553.2 L451.7,554.9 L453.8,556.3 L454.1,558.0 L452.5,558.9 L451.1,559.6 L449.6,560.1 L448.9,561.5 L448.3,563.0 L448.1,564.9 L446.1,565.0 L444.3,565.2 L443.0,567.6 L442.8,569.7 L443.0,571.9 L442.6,573.9 M442.1,573.9 L445.2,574.4 L448.4,575.0 L451.5,575.5 L454.6,576.1 L457.8,576.6 L460.9,577.1 L464.0,577.7 M464.0,577.7 L464.1,579.6 L462.6,581.0 L461.2,582.5 L461.0,584.8 L463.0,585.9 L463.2,587.4 L463.8,588.9 M489.5,527.0 L490.4,528.5 L489.7,531.9 L488.9,535.3 L488.1,538.7 L487.3,542.2 L486.5,545.6 L485.8,549.0 L485.0,552.4 L484.2,555.9 L483.4,559.3 L482.6,562.7 L481.9,566.2 L481.1,569.6 L480.3,573.1 L479.5,576.5 L478.7,579.9 L478.4,584.0 L478.1,588.1 M517.9,530.9 L517.9,532.7 L518.1,534.5 L517.6,536.4 L517.2,538.2 L517.4,540.0 L517.5,541.9 L517.7,543.7 L517.8,545.5 L518.2,547.3 L518.8,549.1 L518.3,551.0 L519.2,552.8 L518.8,554.6 L519.1,556.4 L519.0,558.3 L518.9,560.1 L519.4,562.0 L519.0,564.1 L520.2,565.8 L521.3,567.6 L519.9,569.2 L520.0,570.8 L520.0,572.4 L519.6,574.0 L519.0,575.4 L517.9,576.8 L517.8,579.0 L518.4,581.0 L518.3,583.1 L518.3,585.1 M488.9,591.0 L488.7,586.1 L488.5,581.3 L491.5,581.7 L494.4,582.2 L497.4,582.5 L500.4,582.9 L503.4,583.3 L506.4,583.7 L509.4,584.0 L512.4,584.4 L515.4,584.7 L518.3,585.1 L519.5,589.3 L522.5,589.9 L525.6,590.5 L528.6,591.1 L531.7,591.6 L534.7,592.2 L537.8,592.8 L540.8,593.3 L543.9,593.8 L546.9,594.4 L550.0,594.9 L551.8,593.7 L555.3,593.0 L558.9,592.2 M545.2,533.9 L545.9,535.6 L546.5,537.3 L547.4,539.0 L548.7,540.5 L549.1,541.9 L549.6,543.4 L550.6,544.6 L550.0,546.5 L551.1,547.7 L552.4,548.8 L552.4,550.5 L552.2,552.3 L552.5,553.8 L554.1,555.4 L555.2,556.9 L557.2,557.8 L559.1,558.7 L560.2,560.4 L560.9,562.1 L561.8,563.7 L562.3,565.5 L563.6,566.9 L564.7,568.3 L565.4,570.0 L566.2,571.5 L565.6,573.7 L566.4,575.2 M545.4,531.2 L548.3,531.5 L551.2,531.7 L554.1,532.0 L556.8,532.5 L559.5,533.0 L562.2,533.5 L564.9,533.9 L567.6,534.4 L570.1,538.6 L573.1,538.8 L576.1,539.0 L579.1,539.2 L582.1,539.4 L585.1,542.7 L588.1,546.0 L591.1,549.4 L594.1,552.7 M466.7,523.2 L469.5,523.7 L472.4,524.2 L475.2,524.7 L478.0,525.2 L480.9,525.6 L483.7,526.1 L486.6,526.5 L489.4,527.0 L492.3,527.4 L495.1,527.8 L498.0,528.2 L500.8,528.6 L503.6,529.0 L506.5,529.4 L509.3,529.8 L512.2,530.2 L515.0,530.5 L517.9,530.9 L520.6,531.2 L523.3,531.5 L526.1,531.9 L528.8,532.2 L531.5,532.5 L534.2,532.8 L537.0,533.0 L539.7,533.3 L542.4,533.6 L545.2,533.9 L545.4,531.2 M562.1,513.9 L561.9,515.9 L562.5,517.9 L560.7,519.2 L558.6,519.1 L557.3,520.1 L555.9,521.1 L554.7,521.9 L553.4,523.0 L551.8,522.7 L550.6,524.1 L548.8,523.3 L547.7,524.8 L545.9,524.2 L544.6,524.9 L543.0,524.7 L541.5,525.1 L540.4,527.2 L538.6,528.0 L537.5,529.9 L536.0,531.1 L534.2,532.0 L532.1,532.5 M478.7,504.8 L481.8,505.3 L484.9,505.8 L488.0,506.3 L491.1,506.8 L494.2,507.3 L494.6,504.9 L497.3,505.4 L500.0,505.9 L502.7,506.3 L505.4,506.8 L508.1,507.2 L510.9,507.6 L513.6,508.1 L516.3,508.5 L519.0,508.9 L521.7,509.3 L524.5,509.7 L527.2,510.1 L529.9,510.5 L532.6,510.8 L535.3,511.2 L538.1,511.6 L540.8,511.9 L543.5,512.3 L546.1,512.6 L548.8,513.0 L551.4,513.3 L554.1,513.6 L556.8,513.9 L559.4,514.3 L562.1,514.6 L564.8,514.8 L567.5,515.0 L570.2,515.2 L572.9,515.4 L575.6,515.6 L578.3,515.7 L581.0,515.9 L583.7,516.1 L586.4,516.2 L589.0,516.4 L591.7,516.5 L594.4,516.6 L597.1,516.8 L599.8,516.9 L602.5,517.0 L605.2,517.1 L607.9,517.2 L610.6,517.3 L613.3,517.3 L616.0,517.4 L618.7,517.5 L621.4,517.5 L624.1,517.6 M540.8,511.9 L542.2,510.8 L544.0,510.8 L546.0,511.2 L547.2,509.7 L549.1,509.7 L550.2,508.0 L552.0,507.9 L553.4,506.7 L555.0,506.3 L556.2,504.7 L558.3,505.2 L559.5,503.8 L558.5,503.1 L557.3,501.9 L557.2,499.8 L556.9,498.6 L556.6,497.2 L556.5,495.7 L555.1,494.6 L553.8,493.5 L554.5,491.8 M484.0,499.2 L485.8,499.8 L487.4,498.8 L489.1,499.5 L490.8,500.0 L492.6,498.2 L492.9,496.0 L494.9,495.6 L496.1,494.4 L496.0,491.9 L496.0,489.8 L498.3,489.5 L499.7,488.7 L501.4,490.1 L502.9,490.3 L504.0,491.1 L505.8,490.8 L507.1,492.1 L509.0,491.1 L510.4,492.2 L512.2,491.9 L513.0,490.3 L514.4,489.4 L516.0,488.8 L518.0,489.4 L519.5,488.5 L521.0,487.9 L522.4,487.2 L523.2,485.8 L524.7,485.2 L526.1,484.5 L527.8,484.2 L528.6,482.7 L530.2,481.9 L531.8,481.0 L532.8,479.7 L533.3,477.8 L534.4,478.0 L536.2,478.2 L536.8,480.1 L538.7,480.1 L539.8,481.4 L541.1,482.2 L543.0,482.2 L544.4,482.9 L545.5,484.7 L547.2,485.2 L548.8,486.6 L550.4,487.5 L552.3,486.9 L553.2,488.4 L555.3,488.4 L555.8,487.4 L557.5,486.4 L559.8,486.2 L561.2,484.8 L562.0,482.8 L563.6,481.8 L564.8,480.6 L565.5,478.9 L566.6,477.7 L568.7,477.3 L570.8,476.9 L572.4,475.6 L573.0,473.0 L575.3,472.7 L575.7,470.4 L576.9,468.8 L576.4,466.5 L576.3,464.5 L578.3,463.1 L578.5,461.2 M510.3,438.5 L509.7,441.8 L509.2,445.1 L508.7,448.4 L508.2,451.7 L507.7,455.1 L507.2,458.4 L506.7,461.7 L506.2,465.0 L505.7,468.4 M505.7,468.4 L505.8,470.4 L506.2,472.6 L505.1,474.4 L503.2,476.1 L502.4,477.9 L502.8,480.1 L501.2,480.6 L500.3,481.8 L499.3,482.9 L498.7,484.4 L498.4,486.1 L496.9,486.8 L496.8,490.1 M536.9,443.0 L536.5,446.4 L536.1,449.9 L535.6,453.3 L535.2,456.7 L534.8,460.2 L534.4,463.6 L534.0,467.1 L533.6,470.5 L533.2,474.0 L532.7,477.4 M513.5,439.0 L516.1,439.3 L518.7,439.7 L521.3,440.1 L523.9,440.5 L526.6,440.8 L529.2,441.2 L531.8,441.5 L534.4,441.8 L537.0,442.2 L539.7,442.7 L542.4,443.1 L545.1,443.6 L547.8,444.1 L550.5,444.5 M481.5,423.4 L484.0,423.9 L486.5,424.3 L489.0,424.8 L491.5,425.3 L494.1,425.7 L496.6,426.2 L499.1,426.6 L501.6,427.0 L504.1,427.4 L506.6,427.9 L509.1,428.3 M494.1,371.1 L495.3,372.0 L495.8,373.7 L497.2,374.3 L497.9,375.8 L499.5,376.1 L500.9,376.6 L502.0,377.7 L503.5,378.1 L505.1,378.5 L505.8,379.9 L506.6,381.4 L508.3,381.3 L509.2,382.9 L510.3,383.8 L511.6,384.6 L513.3,384.6 L512.9,386.3 L513.6,387.8 L514.8,389.0 L516.3,389.9 L516.1,391.4 L517.5,392.6 L516.5,394.2 M428.7,397.3 L431.2,398.0 L433.7,398.7 L436.2,399.3 L438.7,399.9 L441.2,400.6 L443.6,401.2 L446.1,401.8 L448.6,402.4 L451.1,403.0 L453.6,403.6 L456.1,404.2 L458.6,404.8 L461.1,405.4 L463.6,405.9 L466.1,406.5 L468.5,407.0 L471.0,407.5 L473.5,408.1 L476.0,408.6 L478.5,409.1 M436.4,365.2 L435.8,369.5 L435.1,373.8 L434.2,377.2 L433.3,380.5 L432.4,383.9 L431.5,387.2 L430.6,390.6 L429.6,394.0 L428.7,397.3 L427.9,400.6 L427.0,403.9 L426.1,407.2 L425.2,410.4 M436.4,365.2 L437.4,363.7 L436.6,362.1 L436.3,360.5 L436.6,359.0 L437.0,357.5 L437.0,356.0 L437.3,354.0 L438.0,352.1 L439.1,350.3 L439.0,348.1 L439.3,346.1 L440.4,344.3 L439.0,342.3 L438.8,340.5 L439.2,338.8 L439.2,337.1 L440.9,335.6 L440.1,333.7 L439.7,332.0 L440.1,330.3 L440.9,328.6 L442.1,327.0 L443.2,325.4 L442.0,323.6 M425.6,437.1 L428.1,437.8 L430.6,438.4 L433.1,439.0 L435.6,439.6 L438.1,440.2 L440.6,440.8 L443.2,441.4 L445.7,442.0 L448.2,442.5 L450.7,443.1 L453.2,443.6 L455.7,444.2 L458.2,444.7 L460.7,445.3 L463.3,445.8 L465.8,446.3 L468.6,449.6 M579.8,443.1 L579.5,446.5 L579.3,449.8 L579.0,453.2 L578.8,456.6 L578.6,459.9 L578.3,463.3 L578.1,466.6 L577.8,470.0 L577.6,473.4 L580.3,473.6 L583.0,473.7 L585.7,473.9 L588.3,474.1 L591.0,474.2 L593.7,474.4 L596.4,474.5 L599.1,474.6 L601.8,474.7 L604.5,474.8 L607.1,474.9 L609.8,475.0 L612.5,475.1 L615.2,475.2 L617.9,475.3 L620.6,475.3 L623.3,475.4 L625.9,475.4 M587.5,440.0 L587.3,443.6 L589.8,443.8 L592.4,443.9 L594.9,444.1 L597.5,444.2 L600.0,444.3 L602.6,444.4 L605.2,444.5 L607.7,444.6 L610.3,444.7 L612.8,444.8 L615.4,444.9 L618.0,445.0 L620.5,445.0 L623.1,445.1 L625.6,445.1 L628.2,445.2 L630.8,445.2 M630.8,445.2 L631.4,447.1 L632.7,448.4 L634.8,448.8 L636.3,449.7 L636.5,451.7 L636.7,453.6 L636.4,454.7 L634.4,455.3 L633.7,456.8 L632.7,458.2 L632.3,460.2 L633.2,462.2 L633.2,464.1 L632.7,465.4 L634.3,466.3 L636.0,467.1 L637.0,468.5 L634.6,470.5 L633.4,472.2 L632.1,473.9 L629.9,474.4 M650.0,405.4 L650.2,409.1 L650.5,412.8 L650.7,416.5 L651.0,420.2 L651.2,423.9 L651.2,427.7 L651.2,431.5 L651.2,435.2 L650.1,439.9 L649.0,444.6 L648.3,448.8 L647.6,453.0 L647.0,457.2 M651.2,435.3 L653.8,435.3 L656.4,435.3 L659.1,435.4 M637.2,453.8 L639.8,455.4 L642.5,457.0 L645.2,458.5 M667.4,404.8 L667.7,406.6 L667.3,408.2 L666.4,409.9 L666.9,411.6 L665.0,411.9 L663.3,412.3 L662.1,413.2 L662.6,416.3 L662.3,418.1 L660.5,419.5 L659.5,421.2 L660.3,423.4 L659.7,425.2 L659.8,426.8 L658.9,428.5 L660.2,430.3 L660.1,432.0 L659.0,433.6 L659.1,435.4 M659.1,435.4 L661.9,435.4 L664.7,435.4 L667.6,435.4 L670.4,435.4 L672.8,434.2 L675.2,433.0 M649.0,444.6 L651.8,444.6 L654.6,444.6 L657.4,444.6 L660.2,444.6 L663.0,444.6 L665.8,444.6 L665.7,449.2 L665.6,453.8 M665.8,444.6 L669.9,444.5 L670.1,448.1 L672.8,451.3 M671.2,400.8 L671.8,404.4 L672.4,408.1 L673.0,411.7 L673.6,415.3 L674.2,419.0 L674.8,422.6 L675.4,426.2 L676.0,429.9 M637.3,405.4 L639.8,405.4 L642.3,405.4 L644.8,405.4 L647.3,405.4 L649.9,405.4 L652.4,405.3 L654.9,405.3 L657.4,405.2 L659.9,405.2 L662.4,405.1 L664.9,405.0 L667.4,404.9 M667.4,404.9 L669.0,404.5 L668.8,402.4 L670.2,401.8 L671.4,401.0 L673.2,400.7 L674.3,399.2 L676.3,399.0 L676.1,396.2 L675.9,394.2 L676.1,392.4 L677.6,391.0 L677.5,389.1 L678.2,387.4 L678.6,385.7 L678.8,383.8 L681.4,383.1 L681.7,381.5 L683.5,380.7 L684.3,379.4 L683.9,377.4 L685.7,376.6 L684.9,374.4 L687.0,373.7 L686.3,371.7 L688.7,371.7 L689.9,372.8 L691.7,372.5 L692.6,374.3 L694.3,373.9 L695.3,375.7 L697.0,373.1 L699.4,372.1 L700.7,374.1 L701.0,375.9 L700.7,377.7 L700.9,379.5 L701.0,381.3 L700.6,383.2 L701.5,384.9 L702.1,386.6 L701.3,388.5 L701.8,390.3 L701.5,392.5 L702.9,394.1 L704.0,395.8 L705.9,397.1 L707.3,398.7 L706.7,401.2 M625.9,475.4 L626.1,478.8 L626.2,482.2 L626.3,485.6 L626.5,489.0 L626.6,492.3 L630.0,492.4 L633.4,492.4 M608.5,475.0 L607.4,476.4 L605.8,476.1 L604.2,476.1 L602.4,475.9 L601.3,477.2 L599.8,477.6 L598.9,477.3 L597.0,477.2 L596.0,475.9 L595.2,474.4 M588.2,474.0 L587.7,475.7 L587.1,477.4 L586.4,479.1 L586.3,480.9 L589.5,481.5 L590.9,480.9 L592.3,480.2 L593.8,479.7 L595.3,479.7 L596.8,479.3 L598.4,479.6 L599.7,478.6 L599.9,479.8 L599.7,481.6 L600.1,483.2 L599.4,483.6 L598.2,484.8 L596.6,485.4 L595.5,486.6 L594.8,488.4 L593.8,489.7 L591.8,490.2 L590.7,492.0 L588.9,492.6 L586.6,492.4 L586.1,494.4 L584.9,495.6 L583.3,496.5 L581.6,497.2 L580.5,498.2 L579.3,499.4 L578.5,500.9 L577.3,502.1 L575.8,502.9 L574.7,504.3 L573.0,503.7 L571.5,505.2 L569.8,504.3 L568.2,503.9 L566.6,504.8 L565.1,506.0 L563.2,504.8 L562.2,503.4 L561.2,501.9 L560.2,500.6 L558.2,500.9 L556.9,500.1 M606.2,480.5 L608.4,481.2 L610.2,482.2 L610.4,485.0 L611.8,486.5 L612.5,487.8 L611.4,489.3 L610.1,490.8 L610.1,492.5 L612.3,493.4 L612.7,495.3 L613.9,496.2 L615.9,496.1 L616.6,497.6 L618.0,498.4 L619.6,499.1 L621.3,499.6" fill="none" stroke="#000" stroke-width="1.4" stroke-linejoin="round"/>
<path d="M697.8,264.3 L701,268 L704.7,272 L708,276.5 L710.7,280.7 L713.3,288.4 M693.5,268.6 L700.4,275.5 L706.4,282.4 L710.7,285.8 M724.5,277.5 L727.5,276.5 L729.5,278.5 L727,280.5 Z" fill="none" stroke="#000" stroke-width="2.6" stroke-linejoin="round" stroke-linecap="round"/>
<path d="M517.0,429.1 L518.2,423.5 L519.5,416.0 L520.8,408.5 L522.0,401.0" fill="none" stroke="#000" stroke-width="1.4" stroke-dasharray="4 4"/>
</g>
<rect x="315" y="111" width="650" height="650" fill="none" stroke="#000" stroke-width="2"/>
<filter id="gs" x="0" y="0" width="1" height="1"><feColorMatrix type="saturate" values="0"/></filter>
<g font-family="DejaVu Sans, sans-serif" fill="#000" filter="url(#gs)">
<text x="638.6" y="38.75" font-size="26.7" text-anchor="middle" font-weight="bold">MODIS Total Column Precipitable Water</text>
<text x="640" y="100" font-size="22.06" text-anchor="middle" font-style="oblique">Aqua 20251109 0845 UTC</text>
<text x="308.5" y="260.5" font-size="17.4" text-anchor="end" >50°N</text>
<text x="308.5" y="414.3" font-size="17.4" text-anchor="end" >40°N</text>
<text x="308.5" y="562.9" font-size="17.4" text-anchor="end" >30°N</text>
<text x="308.5" y="709.1" font-size="17.4" text-anchor="end" >20°N</text>
<text x="430.8" y="779.7" font-size="17.4" text-anchor="middle" >90°W</text>
<text x="564.85" y="779.7" font-size="17.4" text-anchor="middle" >80°W</text>
<text x="698" y="779.7" font-size="17.4" text-anchor="middle" >70°W</text>
<text x="830.8" y="779.7" font-size="17.4" text-anchor="middle" >60°W</text>
<text x="641.5" y="810.75" font-size="26.63" text-anchor="middle" >Total Precipitable Water (cm)</text>
<text x="319.0" y="875.9" font-size="21.6" text-anchor="middle" >0</text>
<text x="411.8571428571429" y="875.9" font-size="21.6" text-anchor="middle" >1</text>
<text x="504.7142857142857" y="875.9" font-size="21.6" text-anchor="middle" >2</text>
<text x="597.5714285714286" y="875.9" font-size="21.6" text-anchor="middle" >3</text>
<text x="690.4285714285714" y="875.9" font-size="21.6" text-anchor="middle" >4</text>
<text x="783.2857142857143" y="875.9" font-size="21.6" text-anchor="middle" >5</text>
<text x="876.1428571428571" y="875.9" font-size="21.6" text-anchor="middle" >6</text>
</g>
<rect x="315.00" y="825" width="46.73" height="26" fill="#0000c8"/>
<rect x="361.43" y="825" width="46.73" height="26" fill="#008c82"/>
<rect x="407.86" y="825" width="46.73" height="26" fill="#00b4f0"/>
<rect x="454.29" y="825" width="46.73" height="26" fill="#00ffe6"/>
<rect x="500.71" y="825" width="46.73" height="26" fill="#00ff00"/>
<rect x="547.14" y="825" width="46.73" height="26" fill="#00e678"/>
<rect x="593.57" y="825" width="46.73" height="26" fill="#ffff00"/>
<rect x="640.00" y="825" width="46.73" height="26" fill="#ffdc00"/>
<rect x="686.43" y="825" width="46.73" height="26" fill="#ffa500"/>
<rect x="732.86" y="825" width="46.73" height="26" fill="#ff1a00"/>
<rect x="779.29" y="825" width="46.73" height="26" fill="#be0000"/>
<rect x="825.71" y="825" width="46.73" height="26" fill="#e600d2"/>
<rect x="872.14" y="825" width="46.73" height="26" fill="#8c0078"/>
<rect x="918.57" y="825" width="46.73" height="26" fill="#28002a"/>
<path d="M407.9,825 v6 M407.9,851 v-6" stroke="#000" stroke-width="1"/>
<path d="M500.7,825 v6 M500.7,851 v-6" stroke="#000" stroke-width="1"/>
<path d="M593.6,825 v6 M593.6,851 v-6" stroke="#000" stroke-width="1"/>
<path d="M686.4,825 v6 M686.4,851 v-6" stroke="#000" stroke-width="1"/>
<path d="M779.3,825 v6 M779.3,851 v-6" stroke="#000" stroke-width="1"/>
<path d="M872.1,825 v6 M872.1,851 v-6" stroke="#000" stroke-width="1"/>
<rect x="315" y="825" width="650" height="26" fill="none" stroke="#000" stroke-width="2"/>
</svg></body></html>
